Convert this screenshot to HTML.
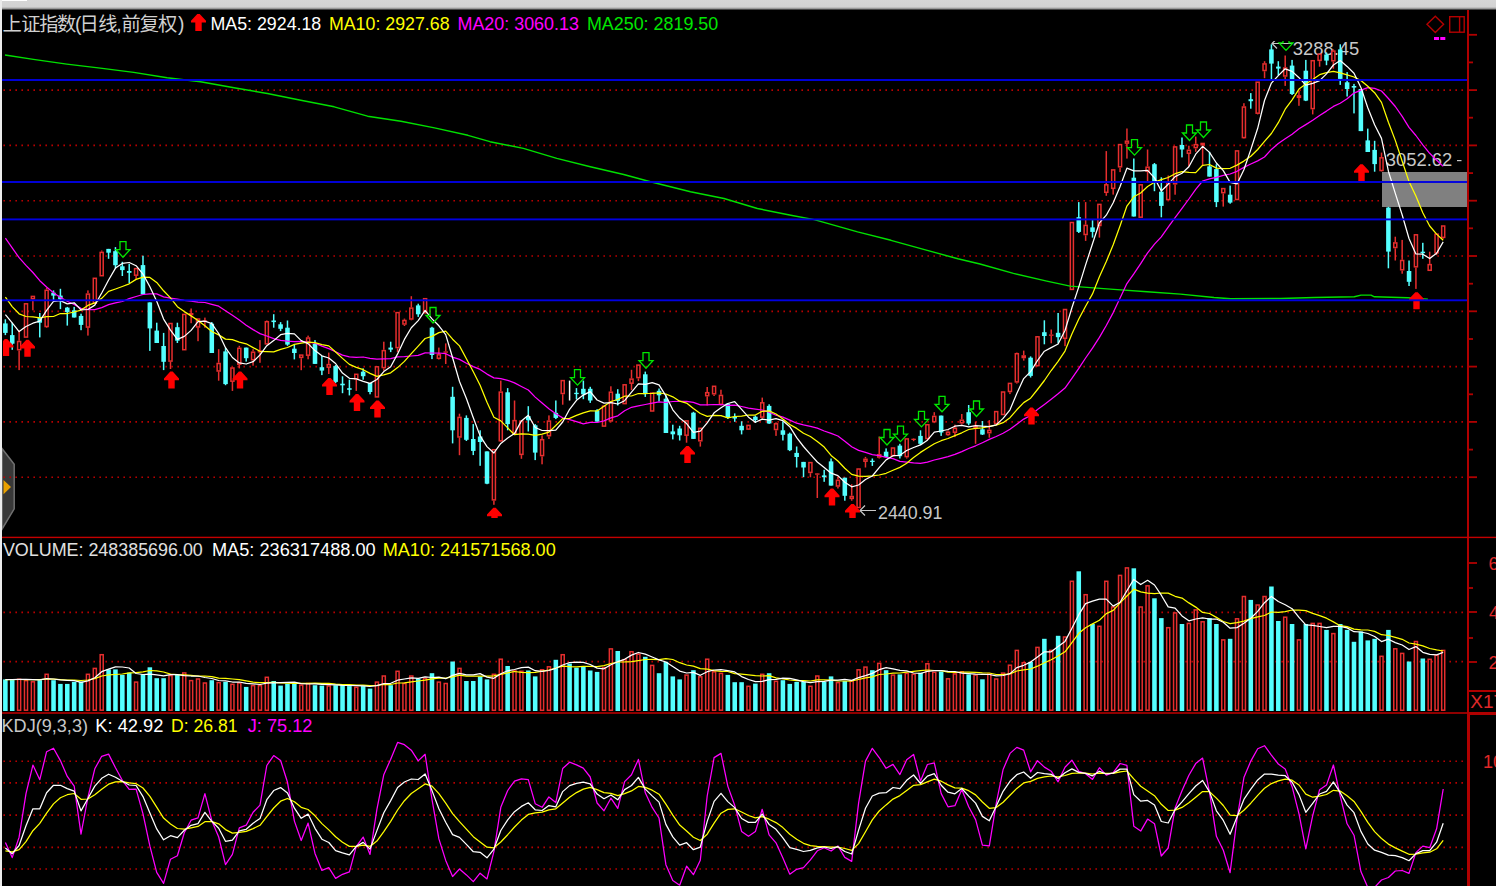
<!DOCTYPE html>
<html><head><meta charset="utf-8"><title>chart</title>
<style>
html,body{margin:0;padding:0;background:#000;}
body{width:1496px;height:886px;overflow:hidden;position:relative;font-family:"Liberation Sans",sans-serif;}
.t{position:absolute;white-space:pre;line-height:1;}
</style></head><body>
<svg width="1496" height="886" viewBox="0 0 1496 886" style="position:absolute;left:0;top:0">
<rect x="0" y="0" width="1496" height="886" fill="#000"/>
<path d="M2 448.5 L14.2 464.3 L14.2 508.8 L2 529.2 Z" fill="#383838" stroke="#707070" stroke-width="1.5"/>
<path d="M3.5 480 L3.5 494.2 L11 487 Z" fill="#e8a000"/>
<g stroke="#b80000" stroke-width="1.65" stroke-dasharray="1.6 4.4" shape-rendering="auto">
<line x1="3.4" y1="90.1" x2="1466" y2="90.1"/>
<line x1="3.4" y1="145.4" x2="1466" y2="145.4"/>
<line x1="3.4" y1="200.7" x2="1466" y2="200.7"/>
<line x1="3.4" y1="256.0" x2="1466" y2="256.0"/>
<line x1="3.4" y1="311.3" x2="1466" y2="311.3"/>
<line x1="3.4" y1="366.6" x2="1466" y2="366.6"/>
<line x1="3.4" y1="421.9" x2="1466" y2="421.9"/>
<line x1="3.4" y1="477.2" x2="1466" y2="477.2"/>
<line x1="3.4" y1="612.4" x2="1466" y2="612.4"/>
<line x1="3.4" y1="661.6" x2="1466" y2="661.6"/>
<line x1="3.4" y1="761.2" x2="1466" y2="761.2"/>
<line x1="3.4" y1="782.8" x2="1466" y2="782.8"/>
<line x1="3.4" y1="815.1" x2="1466" y2="815.1"/>
<line x1="3.4" y1="847.4" x2="1466" y2="847.4"/>
<line x1="3.4" y1="869.0" x2="1466" y2="869.0"/>
</g>
<rect x="1382" y="172" width="86" height="35" fill="#808080" shape-rendering="crispEdges"/>
<text x="1292.8" y="54.9" font-family="'Liberation Sans',sans-serif" font-size="18.4" fill="#c8c8c8">3288.45</text>
<text x="878.1" y="518.8" font-family="'Liberation Sans',sans-serif" font-size="17.8" fill="#c8c8c8">2440.91</text>
<text x="1385.8" y="166.1" font-family="'Liberation Sans',sans-serif" font-size="18.4" fill="#c8c8c8">3052.62</text>
<g stroke="#c8c8c8" stroke-width="1.2" fill="none">
<path d="M860 510.5 L876 510.5 M865 505.5 L860 510.5 L865 515.5"/>
<g clip-path="url(#mc)"><path d="M1272 43.5 L1293 43.5 M1277 38.5 L1272 43.5 L1277 48.5"/></g>
<path d="M1457 160.6 L1461.5 160.6"/>
</g>
<g>
<rect x="4.61" y="319.3" width="1.5" height="15.8" fill="#54ffff"/>
<rect x="3.09" y="323.4" width="4.55" height="9.5" fill="#54ffff"/>
<rect x="11.49" y="322.7" width="1.5" height="27.1" fill="#54ffff"/>
<rect x="9.97" y="335.1" width="4.55" height="8.6" fill="#54ffff"/>
<rect x="18.37" y="330.6" width="1.5" height="10.2" fill="#e62e2e"/>
<rect x="18.37" y="350.5" width="1.5" height="19.6" fill="#e62e2e"/>
<rect x="17.60" y="341.5" width="3.05" height="8.2" fill="#000" stroke="#e62e2e" stroke-width="1.5"/>
<rect x="24.48" y="303.8" width="3.05" height="33.3" fill="#000" stroke="#e62e2e" stroke-width="1.5"/>
<rect x="32.13" y="299.5" width="1.5" height="10.8" fill="#e62e2e"/>
<rect x="31.36" y="296.4" width="3.05" height="2.3" fill="#000" stroke="#e62e2e" stroke-width="1.5"/>
<rect x="39.02" y="313.0" width="1.5" height="24.4" fill="#54ffff"/>
<rect x="37.49" y="317.1" width="4.55" height="5.6" fill="#54ffff"/>
<rect x="45.90" y="287.7" width="1.5" height="1.8" fill="#e62e2e"/>
<rect x="45.90" y="327.2" width="1.5" height="0.7" fill="#e62e2e"/>
<rect x="45.12" y="290.3" width="3.05" height="36.2" fill="#000" stroke="#e62e2e" stroke-width="1.5"/>
<rect x="52.78" y="290.4" width="1.5" height="10.8" fill="#54ffff"/>
<rect x="51.25" y="292.7" width="4.55" height="2.9" fill="#54ffff"/>
<rect x="59.66" y="288.8" width="1.5" height="20.3" fill="#54ffff"/>
<rect x="58.13" y="295.6" width="4.55" height="3.8" fill="#54ffff"/>
<rect x="66.54" y="306.9" width="1.5" height="18.7" fill="#54ffff"/>
<rect x="65.01" y="307.6" width="4.55" height="4.5" fill="#54ffff"/>
<rect x="73.42" y="306.9" width="1.5" height="10.6" fill="#54ffff"/>
<rect x="71.89" y="310.3" width="4.55" height="7.2" fill="#54ffff"/>
<rect x="80.30" y="313.7" width="1.5" height="16.5" fill="#54ffff"/>
<rect x="78.77" y="315.9" width="4.55" height="9.0" fill="#54ffff"/>
<rect x="87.18" y="290.4" width="1.5" height="2.9" fill="#e62e2e"/>
<rect x="87.18" y="327.9" width="1.5" height="7.7" fill="#e62e2e"/>
<rect x="86.41" y="294.1" width="3.05" height="33.0" fill="#000" stroke="#e62e2e" stroke-width="1.5"/>
<rect x="93.29" y="278.3" width="3.05" height="24.9" fill="#000" stroke="#e62e2e" stroke-width="1.5"/>
<rect x="100.94" y="250.5" width="1.5" height="1.1" fill="#e62e2e"/>
<rect x="100.17" y="252.4" width="3.05" height="23.3" fill="#000" stroke="#e62e2e" stroke-width="1.5"/>
<rect x="107.82" y="248.9" width="1.5" height="9.9" fill="#54ffff"/>
<rect x="106.30" y="248.9" width="4.55" height="3.8" fill="#54ffff"/>
<rect x="114.70" y="247.1" width="1.5" height="21.4" fill="#54ffff"/>
<rect x="113.18" y="251.2" width="4.55" height="14.0" fill="#54ffff"/>
<rect x="121.58" y="261.8" width="1.5" height="14.2" fill="#54ffff"/>
<rect x="120.06" y="266.3" width="4.55" height="3.8" fill="#54ffff"/>
<rect x="128.47" y="264.0" width="1.5" height="19.2" fill="#54ffff"/>
<rect x="126.94" y="271.0" width="4.55" height="1.8" fill="#54ffff"/>
<rect x="135.35" y="276.0" width="1.5" height="3.2" fill="#e62e2e"/>
<rect x="134.57" y="268.6" width="3.05" height="6.6" fill="#000" stroke="#e62e2e" stroke-width="1.5"/>
<rect x="142.23" y="255.7" width="1.5" height="38.8" fill="#54ffff"/>
<rect x="140.70" y="265.1" width="4.55" height="29.3" fill="#54ffff"/>
<rect x="149.11" y="302.4" width="1.5" height="48.5" fill="#54ffff"/>
<rect x="147.58" y="302.4" width="4.55" height="26.0" fill="#54ffff"/>
<rect x="155.99" y="322.7" width="1.5" height="20.3" fill="#54ffff"/>
<rect x="154.46" y="330.6" width="4.55" height="12.4" fill="#54ffff"/>
<rect x="162.87" y="332.9" width="1.5" height="37.2" fill="#54ffff"/>
<rect x="161.34" y="346.0" width="4.55" height="15.8" fill="#54ffff"/>
<rect x="169.75" y="361.8" width="1.5" height="7.2" fill="#e62e2e"/>
<rect x="168.98" y="323.5" width="3.05" height="37.6" fill="#000" stroke="#e62e2e" stroke-width="1.5"/>
<rect x="176.63" y="322.7" width="1.5" height="20.3" fill="#54ffff"/>
<rect x="175.11" y="327.2" width="4.55" height="13.5" fill="#54ffff"/>
<rect x="182.74" y="314.4" width="3.05" height="35.3" fill="#000" stroke="#e62e2e" stroke-width="1.5"/>
<rect x="190.39" y="308.5" width="1.5" height="4.5" fill="#e62e2e"/>
<rect x="190.39" y="315.3" width="1.5" height="7.9" fill="#e62e2e"/>
<rect x="188.87" y="313.0" width="4.55" height="2.3" fill="#e62e2e"/>
<rect x="197.27" y="327.7" width="1.5" height="13.5" fill="#e62e2e"/>
<rect x="196.50" y="319.0" width="3.05" height="8.0" fill="#000" stroke="#e62e2e" stroke-width="1.5"/>
<rect x="204.15" y="317.6" width="1.5" height="2.7" fill="#e62e2e"/>
<rect x="204.15" y="321.6" width="1.5" height="6.1" fill="#e62e2e"/>
<rect x="202.63" y="320.3" width="4.55" height="1.3" fill="#e62e2e"/>
<rect x="211.04" y="322.1" width="1.5" height="30.9" fill="#54ffff"/>
<rect x="209.51" y="323.7" width="4.55" height="29.3" fill="#54ffff"/>
<rect x="217.92" y="349.2" width="1.5" height="13.5" fill="#e62e2e"/>
<rect x="217.92" y="371.7" width="1.5" height="9.0" fill="#e62e2e"/>
<rect x="217.14" y="363.5" width="3.05" height="7.5" fill="#000" stroke="#e62e2e" stroke-width="1.5"/>
<rect x="224.80" y="348.0" width="1.5" height="37.2" fill="#54ffff"/>
<rect x="223.27" y="351.4" width="4.55" height="32.7" fill="#54ffff"/>
<rect x="231.68" y="381.9" width="1.5" height="9.0" fill="#e62e2e"/>
<rect x="230.90" y="368.0" width="3.05" height="13.2" fill="#000" stroke="#e62e2e" stroke-width="1.5"/>
<rect x="238.56" y="345.8" width="1.5" height="1.8" fill="#e62e2e"/>
<rect x="238.56" y="365.0" width="1.5" height="3.4" fill="#e62e2e"/>
<rect x="237.78" y="348.3" width="3.05" height="15.9" fill="#000" stroke="#e62e2e" stroke-width="1.5"/>
<rect x="245.44" y="347.6" width="1.5" height="14.0" fill="#54ffff"/>
<rect x="243.91" y="347.6" width="4.55" height="10.6" fill="#54ffff"/>
<rect x="252.32" y="349.2" width="1.5" height="2.3" fill="#e62e2e"/>
<rect x="252.32" y="360.5" width="1.5" height="5.2" fill="#e62e2e"/>
<rect x="251.55" y="352.2" width="3.05" height="7.5" fill="#000" stroke="#e62e2e" stroke-width="1.5"/>
<rect x="259.20" y="340.1" width="1.5" height="10.2" fill="#e62e2e"/>
<rect x="259.20" y="352.6" width="1.5" height="10.2" fill="#e62e2e"/>
<rect x="257.68" y="350.3" width="4.55" height="2.3" fill="#e62e2e"/>
<rect x="266.08" y="320.5" width="1.5" height="0.5" fill="#e62e2e"/>
<rect x="265.31" y="321.7" width="3.05" height="22.2" fill="#000" stroke="#e62e2e" stroke-width="1.5"/>
<rect x="272.96" y="314.2" width="1.5" height="13.5" fill="#54ffff"/>
<rect x="271.44" y="320.5" width="4.55" height="1.6" fill="#54ffff"/>
<rect x="279.84" y="322.1" width="1.5" height="9.0" fill="#54ffff"/>
<rect x="278.32" y="324.3" width="4.55" height="4.5" fill="#54ffff"/>
<rect x="286.72" y="320.5" width="1.5" height="25.3" fill="#54ffff"/>
<rect x="285.20" y="327.7" width="4.55" height="16.9" fill="#54ffff"/>
<rect x="293.60" y="344.7" width="1.5" height="14.7" fill="#54ffff"/>
<rect x="292.08" y="348.7" width="4.55" height="4.3" fill="#54ffff"/>
<rect x="300.49" y="358.2" width="1.5" height="12.0" fill="#e62e2e"/>
<rect x="299.71" y="355.1" width="3.05" height="2.3" fill="#000" stroke="#e62e2e" stroke-width="1.5"/>
<rect x="307.37" y="335.6" width="1.5" height="1.6" fill="#e62e2e"/>
<rect x="307.37" y="355.9" width="1.5" height="3.4" fill="#e62e2e"/>
<rect x="306.59" y="338.0" width="3.05" height="17.2" fill="#000" stroke="#e62e2e" stroke-width="1.5"/>
<rect x="314.25" y="340.1" width="1.5" height="23.7" fill="#54ffff"/>
<rect x="312.72" y="344.0" width="4.55" height="19.9" fill="#54ffff"/>
<rect x="321.13" y="355.9" width="1.5" height="19.2" fill="#54ffff"/>
<rect x="319.60" y="367.2" width="4.55" height="3.4" fill="#54ffff"/>
<rect x="328.01" y="352.6" width="1.5" height="11.3" fill="#e62e2e"/>
<rect x="328.01" y="367.9" width="1.5" height="6.1" fill="#e62e2e"/>
<rect x="327.23" y="364.6" width="3.05" height="2.6" fill="#000" stroke="#e62e2e" stroke-width="1.5"/>
<rect x="334.89" y="365.0" width="1.5" height="18.1" fill="#54ffff"/>
<rect x="333.36" y="366.1" width="4.55" height="15.8" fill="#54ffff"/>
<rect x="341.77" y="376.3" width="1.5" height="16.9" fill="#54ffff"/>
<rect x="340.25" y="383.7" width="4.55" height="1.6" fill="#54ffff"/>
<rect x="348.65" y="379.6" width="1.5" height="15.8" fill="#54ffff"/>
<rect x="347.13" y="388.2" width="4.55" height="1.6" fill="#54ffff"/>
<rect x="355.53" y="379.6" width="1.5" height="11.3" fill="#e62e2e"/>
<rect x="354.76" y="374.3" width="3.05" height="4.6" fill="#000" stroke="#e62e2e" stroke-width="1.5"/>
<rect x="362.41" y="368.4" width="1.5" height="11.3" fill="#54ffff"/>
<rect x="360.89" y="371.7" width="4.55" height="4.5" fill="#54ffff"/>
<rect x="369.29" y="383.0" width="1.5" height="11.3" fill="#54ffff"/>
<rect x="367.77" y="383.0" width="4.55" height="9.0" fill="#54ffff"/>
<rect x="375.40" y="366.8" width="3.05" height="30.1" fill="#000" stroke="#e62e2e" stroke-width="1.5"/>
<rect x="383.06" y="341.7" width="1.5" height="8.1" fill="#e62e2e"/>
<rect x="383.06" y="368.4" width="1.5" height="2.3" fill="#e62e2e"/>
<rect x="382.28" y="350.6" width="3.05" height="17.0" fill="#000" stroke="#e62e2e" stroke-width="1.5"/>
<rect x="389.94" y="341.7" width="1.5" height="10.4" fill="#54ffff"/>
<rect x="388.41" y="347.6" width="4.55" height="2.0" fill="#54ffff"/>
<rect x="396.82" y="348.4" width="1.5" height="3.7" fill="#e62e2e"/>
<rect x="396.04" y="312.6" width="3.05" height="35.0" fill="#000" stroke="#e62e2e" stroke-width="1.5"/>
<rect x="403.70" y="318.6" width="1.5" height="1.2" fill="#e62e2e"/>
<rect x="403.70" y="324.8" width="1.5" height="1.2" fill="#e62e2e"/>
<rect x="402.92" y="320.5" width="3.05" height="3.5" fill="#000" stroke="#e62e2e" stroke-width="1.5"/>
<rect x="410.58" y="296.2" width="1.5" height="11.2" fill="#e62e2e"/>
<rect x="410.58" y="319.8" width="1.5" height="0.5" fill="#e62e2e"/>
<rect x="409.80" y="308.1" width="3.05" height="10.9" fill="#000" stroke="#e62e2e" stroke-width="1.5"/>
<rect x="417.46" y="303.7" width="1.5" height="13.2" fill="#54ffff"/>
<rect x="415.93" y="305.4" width="4.55" height="8.9" fill="#54ffff"/>
<rect x="423.57" y="298.7" width="3.05" height="14.1" fill="#000" stroke="#e62e2e" stroke-width="1.5"/>
<rect x="431.22" y="326.8" width="1.5" height="32.3" fill="#54ffff"/>
<rect x="429.70" y="327.7" width="4.55" height="27.3" fill="#54ffff"/>
<rect x="438.10" y="347.6" width="1.5" height="6.5" fill="#e62e2e"/>
<rect x="438.10" y="359.0" width="1.5" height="0.5" fill="#e62e2e"/>
<rect x="437.33" y="354.8" width="3.05" height="3.5" fill="#000" stroke="#e62e2e" stroke-width="1.5"/>
<rect x="444.98" y="343.4" width="1.5" height="8.0" fill="#e62e2e"/>
<rect x="444.98" y="352.7" width="1.5" height="11.3" fill="#e62e2e"/>
<rect x="443.46" y="351.4" width="4.55" height="1.3" fill="#e62e2e"/>
<rect x="451.86" y="386.8" width="1.5" height="56.6" fill="#54ffff"/>
<rect x="450.34" y="396.8" width="4.55" height="33.5" fill="#54ffff"/>
<rect x="458.74" y="413.7" width="1.5" height="3.0" fill="#e62e2e"/>
<rect x="458.74" y="437.8" width="1.5" height="17.4" fill="#e62e2e"/>
<rect x="457.97" y="417.4" width="3.05" height="19.6" fill="#000" stroke="#e62e2e" stroke-width="1.5"/>
<rect x="465.63" y="415.4" width="1.5" height="25.6" fill="#54ffff"/>
<rect x="464.10" y="417.9" width="4.55" height="21.9" fill="#54ffff"/>
<rect x="472.51" y="424.1" width="1.5" height="31.0" fill="#54ffff"/>
<rect x="470.98" y="439.0" width="4.55" height="11.9" fill="#54ffff"/>
<rect x="479.39" y="430.3" width="1.5" height="35.5" fill="#54ffff"/>
<rect x="477.86" y="436.5" width="4.55" height="5.5" fill="#54ffff"/>
<rect x="486.27" y="451.4" width="1.5" height="32.8" fill="#54ffff"/>
<rect x="484.74" y="451.4" width="4.55" height="32.3" fill="#54ffff"/>
<rect x="493.15" y="500.6" width="1.5" height="4.2" fill="#e62e2e"/>
<rect x="492.37" y="449.7" width="3.05" height="50.2" fill="#000" stroke="#e62e2e" stroke-width="1.5"/>
<rect x="500.03" y="380.6" width="1.5" height="10.7" fill="#e62e2e"/>
<rect x="500.03" y="441.5" width="1.5" height="0.5" fill="#e62e2e"/>
<rect x="499.25" y="392.1" width="3.05" height="48.7" fill="#000" stroke="#e62e2e" stroke-width="1.5"/>
<rect x="506.91" y="388.1" width="1.5" height="42.2" fill="#54ffff"/>
<rect x="505.38" y="392.3" width="4.55" height="31.8" fill="#54ffff"/>
<rect x="513.79" y="400.5" width="1.5" height="19.4" fill="#e62e2e"/>
<rect x="513.79" y="434.0" width="1.5" height="0.5" fill="#e62e2e"/>
<rect x="513.02" y="420.6" width="3.05" height="12.7" fill="#000" stroke="#e62e2e" stroke-width="1.5"/>
<rect x="520.67" y="455.1" width="1.5" height="3.7" fill="#e62e2e"/>
<rect x="519.90" y="421.1" width="3.05" height="33.3" fill="#000" stroke="#e62e2e" stroke-width="1.5"/>
<rect x="527.55" y="406.2" width="1.5" height="25.3" fill="#54ffff"/>
<rect x="526.03" y="416.1" width="4.55" height="4.2" fill="#54ffff"/>
<rect x="534.43" y="424.1" width="1.5" height="36.0" fill="#54ffff"/>
<rect x="532.91" y="425.3" width="4.55" height="27.3" fill="#54ffff"/>
<rect x="541.31" y="435.3" width="1.5" height="3.7" fill="#e62e2e"/>
<rect x="541.31" y="456.4" width="1.5" height="7.9" fill="#e62e2e"/>
<rect x="540.54" y="439.7" width="3.05" height="15.9" fill="#000" stroke="#e62e2e" stroke-width="1.5"/>
<rect x="548.19" y="415.4" width="1.5" height="5.0" fill="#e62e2e"/>
<rect x="548.19" y="436.5" width="1.5" height="2.5" fill="#e62e2e"/>
<rect x="547.42" y="421.1" width="3.05" height="14.6" fill="#000" stroke="#e62e2e" stroke-width="1.5"/>
<rect x="555.08" y="400.5" width="1.5" height="18.6" fill="#54ffff"/>
<rect x="553.55" y="412.9" width="4.55" height="5.0" fill="#54ffff"/>
<rect x="561.96" y="394.3" width="1.5" height="10.4" fill="#e62e2e"/>
<rect x="561.18" y="380.6" width="3.05" height="12.9" fill="#000" stroke="#e62e2e" stroke-width="1.5"/>
<rect x="568.84" y="380.6" width="1.5" height="19.9" fill="#ffffff"/>
<rect x="575.72" y="388.1" width="1.5" height="11.2" fill="#54ffff"/>
<rect x="574.19" y="392.8" width="4.55" height="1.3" fill="#54ffff"/>
<rect x="582.60" y="380.6" width="1.5" height="18.6" fill="#54ffff"/>
<rect x="581.07" y="388.8" width="4.55" height="5.5" fill="#54ffff"/>
<rect x="589.48" y="386.8" width="1.5" height="16.1" fill="#54ffff"/>
<rect x="587.95" y="388.8" width="4.55" height="11.7" fill="#54ffff"/>
<rect x="596.36" y="409.2" width="1.5" height="12.4" fill="#54ffff"/>
<rect x="594.84" y="410.4" width="4.55" height="11.2" fill="#54ffff"/>
<rect x="602.47" y="406.2" width="3.05" height="19.9" fill="#000" stroke="#e62e2e" stroke-width="1.5"/>
<rect x="610.12" y="386.3" width="1.5" height="5.2" fill="#e62e2e"/>
<rect x="610.12" y="421.7" width="1.5" height="0.7" fill="#e62e2e"/>
<rect x="609.35" y="392.2" width="3.05" height="28.7" fill="#000" stroke="#e62e2e" stroke-width="1.5"/>
<rect x="617.00" y="389.2" width="1.5" height="16.3" fill="#54ffff"/>
<rect x="615.48" y="393.7" width="4.55" height="7.2" fill="#54ffff"/>
<rect x="623.11" y="384.8" width="3.05" height="18.8" fill="#000" stroke="#e62e2e" stroke-width="1.5"/>
<rect x="630.76" y="369.8" width="1.5" height="8.6" fill="#e62e2e"/>
<rect x="630.76" y="384.0" width="1.5" height="6.1" fill="#e62e2e"/>
<rect x="629.99" y="379.1" width="3.05" height="4.1" fill="#000" stroke="#e62e2e" stroke-width="1.5"/>
<rect x="637.65" y="378.4" width="1.5" height="2.7" fill="#e62e2e"/>
<rect x="636.87" y="365.1" width="3.05" height="12.5" fill="#000" stroke="#e62e2e" stroke-width="1.5"/>
<rect x="644.53" y="371.6" width="1.5" height="25.3" fill="#54ffff"/>
<rect x="643.00" y="374.3" width="4.55" height="19.9" fill="#54ffff"/>
<rect x="650.63" y="393.1" width="3.05" height="17.9" fill="#000" stroke="#e62e2e" stroke-width="1.5"/>
<rect x="658.29" y="388.5" width="1.5" height="12.9" fill="#54ffff"/>
<rect x="656.76" y="390.8" width="4.55" height="4.5" fill="#54ffff"/>
<rect x="665.17" y="395.3" width="1.5" height="37.7" fill="#54ffff"/>
<rect x="663.64" y="398.7" width="4.55" height="34.3" fill="#54ffff"/>
<rect x="672.05" y="424.7" width="1.5" height="14.7" fill="#54ffff"/>
<rect x="670.52" y="431.4" width="4.55" height="2.9" fill="#54ffff"/>
<rect x="678.93" y="425.8" width="1.5" height="14.7" fill="#54ffff"/>
<rect x="677.41" y="428.5" width="4.55" height="6.8" fill="#54ffff"/>
<rect x="685.81" y="435.9" width="1.5" height="6.8" fill="#e62e2e"/>
<rect x="685.04" y="420.9" width="3.05" height="14.3" fill="#000" stroke="#e62e2e" stroke-width="1.5"/>
<rect x="692.69" y="411.8" width="1.5" height="27.1" fill="#54ffff"/>
<rect x="691.17" y="412.7" width="4.55" height="26.2" fill="#54ffff"/>
<rect x="699.57" y="441.6" width="1.5" height="5.0" fill="#e62e2e"/>
<rect x="698.80" y="428.3" width="3.05" height="12.5" fill="#000" stroke="#e62e2e" stroke-width="1.5"/>
<rect x="706.45" y="387.0" width="1.5" height="5.0" fill="#e62e2e"/>
<rect x="706.45" y="396.4" width="1.5" height="9.0" fill="#e62e2e"/>
<rect x="705.68" y="392.7" width="3.05" height="3.0" fill="#000" stroke="#e62e2e" stroke-width="1.5"/>
<rect x="713.33" y="394.6" width="1.5" height="1.4" fill="#e62e2e"/>
<rect x="712.56" y="386.3" width="3.05" height="7.5" fill="#000" stroke="#e62e2e" stroke-width="1.5"/>
<rect x="720.21" y="389.7" width="1.5" height="5.0" fill="#e62e2e"/>
<rect x="720.21" y="405.0" width="1.5" height="0.5" fill="#e62e2e"/>
<rect x="719.44" y="395.4" width="3.05" height="8.9" fill="#000" stroke="#e62e2e" stroke-width="1.5"/>
<rect x="727.10" y="403.7" width="1.5" height="15.3" fill="#54ffff"/>
<rect x="725.57" y="403.7" width="4.55" height="14.2" fill="#54ffff"/>
<rect x="733.98" y="413.4" width="1.5" height="8.4" fill="#54ffff"/>
<rect x="732.45" y="416.7" width="4.55" height="1.8" fill="#54ffff"/>
<rect x="740.86" y="421.3" width="1.5" height="13.1" fill="#54ffff"/>
<rect x="739.33" y="425.8" width="4.55" height="4.5" fill="#54ffff"/>
<rect x="746.96" y="425.4" width="3.05" height="3.7" fill="#000" stroke="#e62e2e" stroke-width="1.5"/>
<rect x="754.62" y="415.6" width="1.5" height="7.4" fill="#54ffff"/>
<rect x="753.09" y="416.7" width="4.55" height="3.4" fill="#54ffff"/>
<rect x="761.50" y="397.6" width="1.5" height="4.5" fill="#e62e2e"/>
<rect x="761.50" y="417.9" width="1.5" height="0.7" fill="#e62e2e"/>
<rect x="760.72" y="402.8" width="3.05" height="14.3" fill="#000" stroke="#e62e2e" stroke-width="1.5"/>
<rect x="768.38" y="404.3" width="1.5" height="19.6" fill="#54ffff"/>
<rect x="766.86" y="405.9" width="4.55" height="17.6" fill="#54ffff"/>
<rect x="775.26" y="422.4" width="1.5" height="0.7" fill="#e62e2e"/>
<rect x="775.26" y="430.3" width="1.5" height="5.6" fill="#e62e2e"/>
<rect x="774.49" y="423.8" width="3.05" height="5.7" fill="#000" stroke="#e62e2e" stroke-width="1.5"/>
<rect x="782.14" y="421.3" width="1.5" height="19.2" fill="#54ffff"/>
<rect x="780.62" y="430.3" width="4.55" height="4.5" fill="#54ffff"/>
<rect x="789.02" y="432.6" width="1.5" height="18.5" fill="#54ffff"/>
<rect x="787.50" y="433.7" width="4.55" height="16.5" fill="#54ffff"/>
<rect x="795.90" y="446.5" width="1.5" height="21.0" fill="#54ffff"/>
<rect x="794.38" y="452.9" width="4.55" height="4.1" fill="#54ffff"/>
<rect x="802.78" y="461.9" width="1.5" height="15.3" fill="#54ffff"/>
<rect x="801.26" y="461.9" width="4.55" height="5.6" fill="#54ffff"/>
<rect x="809.67" y="473.2" width="1.5" height="4.1" fill="#e62e2e"/>
<rect x="808.89" y="462.6" width="3.05" height="9.8" fill="#000" stroke="#e62e2e" stroke-width="1.5"/>
<rect x="816.55" y="473.2" width="1.5" height="0.3" fill="#e62e2e"/>
<rect x="816.55" y="474.7" width="1.5" height="23.3" fill="#e62e2e"/>
<rect x="815.02" y="473.4" width="4.55" height="1.3" fill="#e62e2e"/>
<rect x="823.43" y="469.8" width="1.5" height="12.0" fill="#54ffff"/>
<rect x="821.90" y="475.4" width="4.55" height="1.8" fill="#54ffff"/>
<rect x="830.31" y="458.5" width="1.5" height="27.1" fill="#54ffff"/>
<rect x="828.78" y="461.4" width="4.55" height="24.2" fill="#54ffff"/>
<rect x="837.19" y="476.6" width="1.5" height="2.9" fill="#e62e2e"/>
<rect x="837.19" y="486.7" width="1.5" height="1.8" fill="#e62e2e"/>
<rect x="836.41" y="480.3" width="3.05" height="5.7" fill="#000" stroke="#e62e2e" stroke-width="1.5"/>
<rect x="844.07" y="477.7" width="1.5" height="23.0" fill="#54ffff"/>
<rect x="842.54" y="477.7" width="4.55" height="18.1" fill="#54ffff"/>
<rect x="850.95" y="484.2" width="1.5" height="11.5" fill="#e62e2e"/>
<rect x="850.95" y="499.1" width="1.5" height="1.6" fill="#e62e2e"/>
<rect x="850.18" y="496.5" width="3.05" height="1.9" fill="#000" stroke="#e62e2e" stroke-width="1.5"/>
<rect x="857.06" y="469.0" width="3.05" height="38.5" fill="#000" stroke="#e62e2e" stroke-width="1.5"/>
<rect x="864.71" y="456.9" width="1.5" height="1.6" fill="#e62e2e"/>
<rect x="864.71" y="461.9" width="1.5" height="5.6" fill="#e62e2e"/>
<rect x="863.94" y="459.3" width="3.05" height="1.9" fill="#000" stroke="#e62e2e" stroke-width="1.5"/>
<rect x="871.59" y="458.5" width="1.5" height="7.4" fill="#54ffff"/>
<rect x="870.07" y="460.7" width="4.55" height="1.3" fill="#54ffff"/>
<rect x="878.47" y="436.6" width="1.5" height="17.4" fill="#e62e2e"/>
<rect x="878.47" y="457.8" width="1.5" height="0.7" fill="#e62e2e"/>
<rect x="877.70" y="454.7" width="3.05" height="2.3" fill="#000" stroke="#e62e2e" stroke-width="1.5"/>
<rect x="885.35" y="448.4" width="1.5" height="9.0" fill="#54ffff"/>
<rect x="883.83" y="451.7" width="4.55" height="5.2" fill="#54ffff"/>
<rect x="892.24" y="456.3" width="1.5" height="0.7" fill="#e62e2e"/>
<rect x="891.46" y="448.0" width="3.05" height="7.5" fill="#000" stroke="#e62e2e" stroke-width="1.5"/>
<rect x="899.12" y="443.8" width="1.5" height="14.7" fill="#54ffff"/>
<rect x="897.59" y="445.6" width="4.55" height="10.6" fill="#54ffff"/>
<rect x="906.00" y="457.4" width="1.5" height="1.1" fill="#e62e2e"/>
<rect x="905.22" y="438.9" width="3.05" height="17.7" fill="#000" stroke="#e62e2e" stroke-width="1.5"/>
<rect x="912.88" y="438.2" width="1.5" height="0.5" fill="#e62e2e"/>
<rect x="912.88" y="440.0" width="1.5" height="1.2" fill="#e62e2e"/>
<rect x="911.35" y="438.7" width="4.55" height="1.3" fill="#e62e2e"/>
<rect x="919.76" y="430.3" width="1.5" height="14.7" fill="#54ffff"/>
<rect x="918.23" y="435.9" width="4.55" height="7.9" fill="#54ffff"/>
<rect x="926.64" y="439.3" width="1.5" height="1.1" fill="#e62e2e"/>
<rect x="925.86" y="424.7" width="3.05" height="13.8" fill="#000" stroke="#e62e2e" stroke-width="1.5"/>
<rect x="933.52" y="412.2" width="1.5" height="3.4" fill="#e62e2e"/>
<rect x="933.52" y="422.4" width="1.5" height="0.7" fill="#e62e2e"/>
<rect x="932.74" y="416.4" width="3.05" height="5.3" fill="#000" stroke="#e62e2e" stroke-width="1.5"/>
<rect x="940.40" y="415.6" width="1.5" height="20.3" fill="#54ffff"/>
<rect x="938.88" y="415.6" width="4.55" height="16.9" fill="#54ffff"/>
<rect x="947.28" y="430.3" width="1.5" height="1.1" fill="#e62e2e"/>
<rect x="947.28" y="435.3" width="1.5" height="0.7" fill="#e62e2e"/>
<rect x="946.51" y="432.2" width="3.05" height="2.3" fill="#000" stroke="#e62e2e" stroke-width="1.5"/>
<rect x="954.16" y="424.7" width="1.5" height="2.9" fill="#e62e2e"/>
<rect x="954.16" y="433.0" width="1.5" height="4.1" fill="#e62e2e"/>
<rect x="953.39" y="428.3" width="3.05" height="3.9" fill="#000" stroke="#e62e2e" stroke-width="1.5"/>
<rect x="961.04" y="414.0" width="1.5" height="5.4" fill="#e62e2e"/>
<rect x="961.04" y="423.5" width="1.5" height="1.1" fill="#e62e2e"/>
<rect x="960.27" y="420.2" width="3.05" height="2.6" fill="#000" stroke="#e62e2e" stroke-width="1.5"/>
<rect x="967.92" y="405.0" width="1.5" height="20.3" fill="#54ffff"/>
<rect x="966.40" y="412.2" width="4.55" height="11.3" fill="#54ffff"/>
<rect x="974.80" y="421.7" width="1.5" height="4.1" fill="#e62e2e"/>
<rect x="974.80" y="428.5" width="1.5" height="15.3" fill="#e62e2e"/>
<rect x="973.28" y="425.8" width="4.55" height="2.7" fill="#e62e2e"/>
<rect x="981.69" y="421.0" width="1.5" height="14.0" fill="#54ffff"/>
<rect x="980.16" y="429.3" width="4.55" height="5.2" fill="#54ffff"/>
<rect x="988.57" y="420.1" width="1.5" height="9.6" fill="#e62e2e"/>
<rect x="988.57" y="433.5" width="1.5" height="4.2" fill="#e62e2e"/>
<rect x="987.79" y="430.4" width="3.05" height="2.3" fill="#000" stroke="#e62e2e" stroke-width="1.5"/>
<rect x="994.67" y="411.6" width="3.05" height="11.9" fill="#000" stroke="#e62e2e" stroke-width="1.5"/>
<rect x="1001.55" y="392.0" width="3.05" height="22.5" fill="#000" stroke="#e62e2e" stroke-width="1.5"/>
<rect x="1009.21" y="392.2" width="1.5" height="1.9" fill="#e62e2e"/>
<rect x="1008.43" y="383.4" width="3.05" height="8.1" fill="#000" stroke="#e62e2e" stroke-width="1.5"/>
<rect x="1016.09" y="352.5" width="1.5" height="0.4" fill="#e62e2e"/>
<rect x="1016.09" y="382.6" width="1.5" height="1.0" fill="#e62e2e"/>
<rect x="1015.31" y="353.7" width="3.05" height="28.2" fill="#000" stroke="#e62e2e" stroke-width="1.5"/>
<rect x="1022.97" y="350.6" width="1.5" height="4.6" fill="#e62e2e"/>
<rect x="1022.97" y="358.3" width="1.5" height="2.3" fill="#e62e2e"/>
<rect x="1021.45" y="355.2" width="4.55" height="3.1" fill="#e62e2e"/>
<rect x="1029.85" y="356.4" width="1.5" height="21.1" fill="#54ffff"/>
<rect x="1028.33" y="357.7" width="4.55" height="18.2" fill="#54ffff"/>
<rect x="1036.73" y="366.3" width="1.5" height="0.4" fill="#e62e2e"/>
<rect x="1035.96" y="336.8" width="3.05" height="28.8" fill="#000" stroke="#e62e2e" stroke-width="1.5"/>
<rect x="1043.61" y="320.3" width="1.5" height="24.0" fill="#54ffff"/>
<rect x="1042.09" y="332.2" width="4.55" height="3.8" fill="#54ffff"/>
<rect x="1050.49" y="329.5" width="1.5" height="5.0" fill="#e62e2e"/>
<rect x="1050.49" y="335.8" width="1.5" height="7.5" fill="#e62e2e"/>
<rect x="1048.97" y="334.5" width="4.55" height="1.3" fill="#e62e2e"/>
<rect x="1057.37" y="313.0" width="1.5" height="30.3" fill="#54ffff"/>
<rect x="1055.85" y="332.8" width="4.55" height="4.4" fill="#54ffff"/>
<rect x="1064.26" y="339.1" width="1.5" height="7.1" fill="#e62e2e"/>
<rect x="1063.48" y="309.5" width="3.05" height="28.8" fill="#000" stroke="#e62e2e" stroke-width="1.5"/>
<rect x="1070.36" y="222.5" width="3.05" height="66.9" fill="#000" stroke="#e62e2e" stroke-width="1.5"/>
<rect x="1078.02" y="202.1" width="1.5" height="30.9" fill="#54ffff"/>
<rect x="1076.49" y="217.2" width="4.55" height="14.7" fill="#54ffff"/>
<rect x="1084.90" y="202.1" width="1.5" height="22.6" fill="#e62e2e"/>
<rect x="1084.90" y="235.3" width="1.5" height="5.6" fill="#e62e2e"/>
<rect x="1084.12" y="225.4" width="3.05" height="9.1" fill="#000" stroke="#e62e2e" stroke-width="1.5"/>
<rect x="1091.78" y="220.2" width="1.5" height="17.4" fill="#54ffff"/>
<rect x="1090.25" y="227.4" width="4.55" height="4.5" fill="#54ffff"/>
<rect x="1098.66" y="226.3" width="1.5" height="11.3" fill="#e62e2e"/>
<rect x="1097.88" y="204.4" width="3.05" height="21.1" fill="#000" stroke="#e62e2e" stroke-width="1.5"/>
<rect x="1105.54" y="151.1" width="1.5" height="33.0" fill="#e62e2e"/>
<rect x="1105.54" y="193.1" width="1.5" height="2.7" fill="#e62e2e"/>
<rect x="1104.77" y="184.8" width="3.05" height="7.5" fill="#000" stroke="#e62e2e" stroke-width="1.5"/>
<rect x="1112.42" y="189.0" width="1.5" height="5.6" fill="#e62e2e"/>
<rect x="1111.65" y="169.9" width="3.05" height="18.4" fill="#000" stroke="#e62e2e" stroke-width="1.5"/>
<rect x="1119.30" y="167.6" width="1.5" height="4.5" fill="#e62e2e"/>
<rect x="1118.53" y="144.6" width="3.05" height="22.2" fill="#000" stroke="#e62e2e" stroke-width="1.5"/>
<rect x="1126.18" y="128.5" width="1.5" height="12.0" fill="#e62e2e"/>
<rect x="1126.18" y="143.9" width="1.5" height="14.7" fill="#e62e2e"/>
<rect x="1125.41" y="141.2" width="3.05" height="1.9" fill="#000" stroke="#e62e2e" stroke-width="1.5"/>
<rect x="1133.06" y="158.5" width="1.5" height="58.0" fill="#54ffff"/>
<rect x="1131.54" y="177.7" width="4.55" height="38.8" fill="#54ffff"/>
<rect x="1139.17" y="184.8" width="3.05" height="32.4" fill="#000" stroke="#e62e2e" stroke-width="1.5"/>
<rect x="1146.82" y="149.5" width="1.5" height="16.9" fill="#e62e2e"/>
<rect x="1146.82" y="172.1" width="1.5" height="9.0" fill="#e62e2e"/>
<rect x="1146.05" y="167.2" width="3.05" height="4.1" fill="#000" stroke="#e62e2e" stroke-width="1.5"/>
<rect x="1153.71" y="163.0" width="1.5" height="28.2" fill="#54ffff"/>
<rect x="1152.18" y="164.2" width="4.55" height="18.1" fill="#54ffff"/>
<rect x="1160.59" y="177.3" width="1.5" height="40.0" fill="#54ffff"/>
<rect x="1159.06" y="191.7" width="4.55" height="14.2" fill="#54ffff"/>
<rect x="1167.47" y="175.5" width="1.5" height="6.8" fill="#e62e2e"/>
<rect x="1166.69" y="183.0" width="3.05" height="16.6" fill="#000" stroke="#e62e2e" stroke-width="1.5"/>
<rect x="1174.35" y="184.5" width="1.5" height="10.2" fill="#e62e2e"/>
<rect x="1173.57" y="146.9" width="3.05" height="36.9" fill="#000" stroke="#e62e2e" stroke-width="1.5"/>
<rect x="1181.23" y="137.5" width="1.5" height="19.9" fill="#54ffff"/>
<rect x="1179.70" y="145.0" width="4.55" height="4.5" fill="#54ffff"/>
<rect x="1188.11" y="145.7" width="1.5" height="3.8" fill="#e62e2e"/>
<rect x="1188.11" y="154.0" width="1.5" height="12.4" fill="#e62e2e"/>
<rect x="1187.33" y="150.3" width="3.05" height="3.0" fill="#000" stroke="#e62e2e" stroke-width="1.5"/>
<rect x="1194.99" y="136.6" width="1.5" height="7.2" fill="#e62e2e"/>
<rect x="1194.99" y="148.4" width="1.5" height="3.4" fill="#e62e2e"/>
<rect x="1194.22" y="144.6" width="3.05" height="3.0" fill="#000" stroke="#e62e2e" stroke-width="1.5"/>
<rect x="1201.87" y="145.7" width="1.5" height="19.6" fill="#e62e2e"/>
<rect x="1200.35" y="142.7" width="4.55" height="2.9" fill="#e62e2e"/>
<rect x="1208.75" y="151.8" width="1.5" height="24.8" fill="#54ffff"/>
<rect x="1207.23" y="166.4" width="4.55" height="10.2" fill="#54ffff"/>
<rect x="1215.63" y="164.2" width="1.5" height="42.9" fill="#54ffff"/>
<rect x="1214.11" y="169.1" width="4.55" height="33.0" fill="#54ffff"/>
<rect x="1222.51" y="193.5" width="1.5" height="13.1" fill="#e62e2e"/>
<rect x="1221.74" y="188.6" width="3.05" height="4.1" fill="#000" stroke="#e62e2e" stroke-width="1.5"/>
<rect x="1229.39" y="185.6" width="1.5" height="18.1" fill="#54ffff"/>
<rect x="1227.87" y="194.7" width="4.55" height="7.9" fill="#54ffff"/>
<rect x="1235.50" y="150.9" width="3.05" height="48.6" fill="#000" stroke="#e62e2e" stroke-width="1.5"/>
<rect x="1243.16" y="103.2" width="1.5" height="3.0" fill="#e62e2e"/>
<rect x="1243.16" y="138.4" width="1.5" height="0.4" fill="#e62e2e"/>
<rect x="1242.38" y="107.0" width="3.05" height="30.6" fill="#000" stroke="#e62e2e" stroke-width="1.5"/>
<rect x="1250.04" y="93.1" width="1.5" height="15.6" fill="#54ffff"/>
<rect x="1248.51" y="99.2" width="4.55" height="2.0" fill="#54ffff"/>
<rect x="1256.92" y="114.0" width="1.5" height="0.4" fill="#e62e2e"/>
<rect x="1256.14" y="82.2" width="3.05" height="31.0" fill="#000" stroke="#e62e2e" stroke-width="1.5"/>
<rect x="1263.80" y="61.2" width="1.5" height="2.0" fill="#e62e2e"/>
<rect x="1263.80" y="71.3" width="1.5" height="6.9" fill="#e62e2e"/>
<rect x="1263.02" y="63.9" width="3.05" height="6.6" fill="#000" stroke="#e62e2e" stroke-width="1.5"/>
<rect x="1270.68" y="44.3" width="1.5" height="35.6" fill="#54ffff"/>
<rect x="1269.15" y="49.4" width="4.55" height="14.2" fill="#54ffff"/>
<rect x="1277.56" y="61.2" width="1.5" height="14.2" fill="#54ffff"/>
<rect x="1276.04" y="66.6" width="4.55" height="2.0" fill="#54ffff"/>
<rect x="1284.44" y="55.5" width="1.5" height="11.8" fill="#e62e2e"/>
<rect x="1284.44" y="76.8" width="1.5" height="9.1" fill="#e62e2e"/>
<rect x="1283.67" y="68.0" width="3.05" height="8.0" fill="#000" stroke="#e62e2e" stroke-width="1.5"/>
<rect x="1291.32" y="59.9" width="1.5" height="35.1" fill="#54ffff"/>
<rect x="1289.80" y="65.6" width="4.55" height="28.4" fill="#54ffff"/>
<rect x="1298.20" y="91.0" width="1.5" height="4.1" fill="#e62e2e"/>
<rect x="1298.20" y="98.1" width="1.5" height="7.7" fill="#e62e2e"/>
<rect x="1296.68" y="95.1" width="4.55" height="3.0" fill="#e62e2e"/>
<rect x="1305.08" y="59.9" width="1.5" height="41.2" fill="#54ffff"/>
<rect x="1303.56" y="70.7" width="4.55" height="29.9" fill="#54ffff"/>
<rect x="1311.96" y="109.3" width="1.5" height="5.1" fill="#e62e2e"/>
<rect x="1311.19" y="60.7" width="3.05" height="47.9" fill="#000" stroke="#e62e2e" stroke-width="1.5"/>
<rect x="1318.85" y="61.2" width="1.5" height="5.5" fill="#e62e2e"/>
<rect x="1318.07" y="54.2" width="3.05" height="6.2" fill="#000" stroke="#e62e2e" stroke-width="1.5"/>
<rect x="1325.73" y="52.4" width="1.5" height="12.8" fill="#54ffff"/>
<rect x="1324.20" y="54.5" width="4.55" height="6.1" fill="#54ffff"/>
<rect x="1332.61" y="49.4" width="1.5" height="1.0" fill="#e62e2e"/>
<rect x="1332.61" y="61.6" width="1.5" height="7.1" fill="#e62e2e"/>
<rect x="1331.83" y="51.1" width="3.05" height="9.7" fill="#000" stroke="#e62e2e" stroke-width="1.5"/>
<rect x="1339.49" y="44.3" width="1.5" height="40.6" fill="#54ffff"/>
<rect x="1337.96" y="49.4" width="4.55" height="29.5" fill="#54ffff"/>
<rect x="1346.37" y="72.1" width="1.5" height="24.4" fill="#54ffff"/>
<rect x="1344.84" y="82.3" width="4.55" height="6.7" fill="#54ffff"/>
<rect x="1353.25" y="83.9" width="1.5" height="29.5" fill="#54ffff"/>
<rect x="1351.72" y="86.0" width="4.55" height="1.6" fill="#54ffff"/>
<rect x="1360.13" y="89.0" width="1.5" height="42.1" fill="#54ffff"/>
<rect x="1358.60" y="89.0" width="4.55" height="42.1" fill="#54ffff"/>
<rect x="1367.01" y="128.6" width="1.5" height="23.4" fill="#54ffff"/>
<rect x="1365.49" y="140.4" width="4.55" height="11.6" fill="#54ffff"/>
<rect x="1373.89" y="140.8" width="1.5" height="30.9" fill="#54ffff"/>
<rect x="1372.37" y="149.9" width="4.55" height="14.2" fill="#54ffff"/>
<rect x="1380.77" y="152.6" width="1.5" height="4.5" fill="#e62e2e"/>
<rect x="1380.77" y="171.3" width="1.5" height="0.4" fill="#e62e2e"/>
<rect x="1380.00" y="157.8" width="3.05" height="12.7" fill="#000" stroke="#e62e2e" stroke-width="1.5"/>
<rect x="1387.65" y="206.9" width="1.5" height="61.4" fill="#54ffff"/>
<rect x="1386.13" y="207.6" width="4.55" height="44.0" fill="#54ffff"/>
<rect x="1394.53" y="236.7" width="1.5" height="5.4" fill="#e62e2e"/>
<rect x="1394.53" y="248.3" width="1.5" height="12.2" fill="#e62e2e"/>
<rect x="1393.76" y="242.9" width="3.05" height="4.6" fill="#000" stroke="#e62e2e" stroke-width="1.5"/>
<rect x="1401.41" y="239.9" width="1.5" height="19.9" fill="#e62e2e"/>
<rect x="1401.41" y="270.6" width="1.5" height="3.1" fill="#e62e2e"/>
<rect x="1400.64" y="260.5" width="3.05" height="9.3" fill="#000" stroke="#e62e2e" stroke-width="1.5"/>
<rect x="1408.30" y="260.5" width="1.5" height="25.5" fill="#54ffff"/>
<rect x="1406.77" y="271.0" width="4.55" height="10.8" fill="#54ffff"/>
<rect x="1415.18" y="267.5" width="1.5" height="21.4" fill="#e62e2e"/>
<rect x="1414.40" y="234.8" width="3.05" height="32.0" fill="#000" stroke="#e62e2e" stroke-width="1.5"/>
<rect x="1422.06" y="242.8" width="1.5" height="16.0" fill="#54ffff"/>
<rect x="1420.53" y="251.7" width="4.55" height="1.4" fill="#54ffff"/>
<rect x="1428.94" y="251.7" width="1.5" height="12.2" fill="#e62e2e"/>
<rect x="1428.16" y="264.6" width="3.05" height="5.7" fill="#000" stroke="#e62e2e" stroke-width="1.5"/>
<rect x="1435.82" y="253.7" width="1.5" height="1.4" fill="#e62e2e"/>
<rect x="1435.04" y="234.1" width="3.05" height="18.8" fill="#000" stroke="#e62e2e" stroke-width="1.5"/>
<rect x="1442.45" y="238.1" width="1.5" height="0.7" fill="#e62e2e"/>
<rect x="1441.67" y="226.0" width="3.05" height="11.4" fill="#000" stroke="#e62e2e" stroke-width="1.5"/>
</g>
<polyline points="5.0,55.0 33.4,59.4 66.8,64.1 100.3,68.1 133.7,72.4 167.1,77.8 200.5,81.8 234.0,87.8 267.4,93.5 300.8,100.2 334.2,106.8 367.6,116.2 401.0,121.2 434.5,127.9 467.9,135.3 490.0,141.7 523.4,148.4 556.8,158.4 590.3,166.8 623.7,174.5 650.4,181.8 690.5,191.8 724.0,198.5 757.4,208.5 790.8,215.2 814.2,219.6 857.6,231.9 891.0,240.3 924.5,249.7 957.9,258.7 980.0,264.0 1013.4,273.4 1046.8,281.1 1070.2,286.1 1113.7,289.4 1147.1,291.8 1180.5,294.1 1214.0,297.5 1230.7,298.8 1280.8,298.5 1314.2,297.5 1354.3,296.8 1361.0,295.1 1371.0,295.1 1374.4,296.8 1407.8,297.8 1427.9,299.1" fill="none" stroke="#00e000" stroke-width="1.4" stroke-linejoin="round"/>
<polyline points="5.4,238.1 12.2,247.9 19.1,257.7 26.0,265.4 32.9,272.5 39.8,280.7 46.6,287.0 53.5,292.7 60.4,297.4 67.3,301.3 74.2,304.5 81.0,308.4 87.9,309.6 94.8,309.7 101.7,307.6 108.6,304.7 115.5,302.8 122.3,301.5 129.2,298.7 136.1,296.5 143.0,294.5 149.9,293.8 156.7,293.9 163.6,296.8 170.5,298.2 177.4,299.1 184.3,300.3 191.1,301.2 198.0,302.1 204.9,302.5 211.8,304.3 218.7,306.2 225.5,310.7 232.4,315.2 239.3,320.0 246.2,325.3 253.1,329.6 260.0,333.6 266.8,336.0 273.7,338.7 280.6,340.4 287.5,341.2 294.4,341.7 301.2,341.4 308.1,342.1 315.0,343.2 321.9,346.1 328.8,348.6 335.6,351.8 342.5,355.1 349.4,356.9 356.3,357.4 363.2,357.0 370.0,358.3 376.9,359.2 383.8,358.8 390.7,358.7 397.6,356.8 404.4,356.7 411.3,356.0 418.2,355.3 425.1,352.9 432.0,353.0 438.9,353.0 445.7,353.7 452.6,357.1 459.5,359.4 466.4,363.2 473.3,366.6 480.1,369.4 487.0,374.1 493.9,377.9 500.8,378.7 507.7,380.3 514.5,382.9 521.4,386.5 528.3,390.0 535.2,397.1 542.1,403.0 548.9,408.7 555.8,413.8 562.7,417.9 569.6,419.7 576.5,421.6 583.3,423.8 590.2,422.3 597.1,422.5 604.0,420.8 610.9,417.9 617.8,415.8 624.6,410.8 631.5,407.3 638.4,405.9 645.3,404.5 652.2,403.1 659.0,401.8 665.9,402.5 672.8,401.5 679.7,401.4 686.6,401.3 693.4,402.4 700.3,404.8 707.2,404.9 714.1,404.5 721.0,404.5 727.8,405.4 734.7,405.2 741.6,406.5 748.5,408.1 755.4,409.1 762.2,410.0 769.1,412.2 776.0,415.2 782.9,417.2 789.8,420.1 796.7,423.2 803.5,424.9 810.4,426.3 817.3,428.2 824.2,431.0 831.1,433.4 837.9,436.0 844.8,441.2 851.7,446.7 858.6,450.4 865.5,452.4 872.3,454.6 879.2,455.7 886.1,457.4 893.0,458.7 899.9,461.4 906.7,462.2 913.6,462.9 920.5,463.4 927.4,462.1 934.3,460.0 941.2,458.3 948.0,456.7 954.9,454.4 961.8,451.6 968.7,448.5 975.6,445.8 982.4,442.7 989.3,439.4 996.2,436.5 1003.1,433.2 1010.0,429.2 1016.8,424.2 1023.7,419.1 1030.6,415.5 1037.5,409.5 1044.4,404.4 1051.2,399.2 1058.1,393.8 1065.0,388.1 1071.9,378.4 1078.8,368.4 1085.6,358.0 1092.5,348.2 1099.4,337.4 1106.3,325.5 1113.2,312.6 1120.1,298.1 1126.9,283.6 1133.8,273.9 1140.7,263.6 1147.6,252.8 1154.5,244.2 1161.3,236.8 1168.2,227.1 1175.1,217.6 1182.0,208.3 1188.9,199.0 1195.7,189.3 1202.6,181.0 1209.5,178.8 1216.4,177.3 1223.3,175.4 1230.1,174.0 1237.0,171.3 1243.9,167.4 1250.8,164.0 1257.7,160.9 1264.5,157.0 1271.4,149.4 1278.3,143.6 1285.2,138.7 1292.1,134.2 1299.0,128.7 1305.8,124.6 1312.7,120.3 1319.6,115.5 1326.5,111.1 1333.4,106.4 1340.2,103.2 1347.1,98.8 1354.0,93.1 1360.9,90.2 1367.8,87.7 1374.6,88.4 1381.5,91.0 1388.4,98.5 1395.3,106.5 1402.2,116.3 1409.0,127.3 1415.9,135.5 1422.8,144.8 1429.7,153.3 1436.6,160.2 1443.2,166.4" fill="none" stroke="#ff00ff" stroke-width="1.25" stroke-linejoin="round"/>
<polyline points="5.4,297.1 12.2,306.6 19.1,313.8 26.0,316.5 32.9,316.8 39.8,317.9 46.6,316.6 53.5,316.5 60.4,313.5 67.3,313.5 74.2,312.0 81.0,310.1 87.9,305.4 94.8,302.8 101.7,298.4 108.6,291.4 115.5,289.0 122.3,286.5 129.2,283.8 136.1,279.4 143.0,277.1 149.9,277.4 156.7,282.4 163.6,290.8 170.5,297.9 177.4,306.7 184.3,311.6 191.1,315.9 198.0,320.4 204.9,325.7 211.8,331.5 218.7,334.9 225.5,339.1 232.4,339.6 239.3,342.1 246.2,343.8 253.1,347.6 260.0,351.3 266.8,351.6 273.7,351.8 280.6,349.3 287.5,347.5 294.4,344.4 301.2,343.1 308.1,342.1 315.0,342.7 321.9,344.6 328.8,345.9 335.6,352.0 342.5,358.4 349.4,364.4 356.3,367.3 363.2,369.7 370.0,373.4 376.9,376.3 383.8,374.9 390.7,372.8 397.6,367.6 404.4,361.4 411.3,353.6 418.2,346.1 425.1,338.5 432.0,336.4 438.9,332.6 445.7,331.1 452.6,339.2 459.5,345.9 466.4,358.7 473.3,371.8 480.1,385.3 487.0,402.2 493.9,417.3 500.8,420.9 507.7,427.9 514.5,434.7 521.4,433.8 528.3,434.1 535.2,435.4 542.1,434.2 548.9,432.1 555.8,425.5 562.7,418.6 569.6,418.4 576.5,415.4 583.3,412.8 590.2,410.8 597.1,411.0 604.0,406.2 610.9,401.5 617.8,399.5 624.6,396.2 631.5,396.0 638.4,393.5 645.3,393.5 652.2,393.3 659.0,392.8 665.9,394.0 672.8,396.8 679.7,401.2 686.6,403.1 693.4,408.6 700.3,413.5 707.2,416.3 714.1,415.4 721.0,415.7 727.8,417.9 734.7,416.5 741.6,416.1 748.5,415.0 755.4,415.0 762.2,411.3 769.1,410.9 776.0,414.0 782.9,419.0 789.8,424.5 796.7,428.4 803.5,433.3 810.4,436.5 817.3,441.4 824.2,447.1 831.1,455.4 837.9,461.0 844.8,468.3 851.7,474.4 858.6,476.2 865.5,476.4 872.3,475.8 879.2,475.0 886.1,473.3 893.0,470.3 899.9,467.4 906.7,463.3 913.6,457.6 920.5,452.4 927.4,448.0 934.3,443.7 941.2,440.7 948.0,438.5 954.9,435.6 961.8,432.8 968.7,429.5 975.6,428.3 982.4,427.8 989.3,426.4 996.2,425.1 1003.1,422.7 1010.0,417.7 1016.8,409.8 1023.7,402.6 1030.6,398.2 1037.5,389.5 1044.4,380.5 1051.2,370.5 1058.1,361.3 1065.0,351.1 1071.9,334.1 1078.8,319.0 1085.6,306.2 1092.5,293.9 1099.4,276.7 1106.3,261.5 1113.2,244.8 1120.1,225.7 1126.9,206.0 1133.8,196.8 1140.7,193.0 1147.6,186.5 1154.5,182.2 1161.3,179.6 1168.2,177.5 1175.1,173.7 1182.0,171.7 1188.9,172.3 1195.7,172.6 1202.6,165.3 1209.5,164.5 1216.4,168.1 1223.3,168.6 1230.1,168.3 1237.0,165.1 1243.9,161.1 1250.8,156.3 1257.7,149.5 1264.5,141.4 1271.4,133.5 1278.3,122.7 1285.2,109.2 1292.1,99.8 1299.0,89.1 1305.8,84.1 1312.7,79.5 1319.6,74.7 1326.5,72.6 1333.4,71.4 1340.2,72.9 1347.1,74.9 1354.0,77.0 1360.9,80.6 1367.8,86.3 1374.6,92.7 1381.5,102.4 1388.4,122.2 1395.3,140.4 1402.2,161.3 1409.0,181.6 1415.9,196.1 1422.8,212.7 1429.7,226.0 1436.6,234.1 1443.2,240.2" fill="none" stroke="#ffff00" stroke-width="1.25" stroke-linejoin="round"/>
<polyline points="5.4,314.7 12.2,322.8 19.1,331.6 26.0,326.5 32.9,323.2 39.8,321.2 46.6,310.3 53.5,301.3 60.4,300.6 67.3,303.9 74.2,302.8 81.0,309.9 87.9,309.5 94.8,305.1 101.7,293.0 108.6,280.0 115.5,268.1 122.3,263.4 129.2,262.5 136.1,265.7 143.0,274.1 149.9,286.7 156.7,301.3 163.6,319.1 170.5,330.1 177.4,339.3 184.3,336.4 191.1,330.4 198.0,321.7 204.9,321.2 211.8,323.7 218.7,333.5 225.5,347.7 232.4,357.5 239.3,362.9 246.2,364.0 253.1,361.7 260.0,354.9 266.8,345.7 273.7,340.6 280.6,334.7 287.5,333.4 294.4,333.9 301.2,340.6 308.1,343.6 315.0,350.6 321.9,355.8 328.8,358.0 335.6,363.5 342.5,373.1 349.4,378.3 356.3,378.9 363.2,381.4 370.0,383.4 376.9,379.5 383.8,371.6 390.7,366.8 397.6,353.9 404.4,339.4 411.3,327.7 418.2,320.6 425.1,310.3 432.0,318.9 438.9,325.8 445.7,334.6 452.6,357.8 459.5,381.5 466.4,398.5 473.3,417.8 480.1,435.9 487.0,446.6 493.9,453.0 500.8,443.4 507.7,438.0 514.5,433.6 521.4,420.9 528.3,415.2 535.2,427.5 542.1,430.5 548.9,430.6 555.8,430.1 562.7,422.0 569.6,409.3 576.5,400.3 583.3,395.1 590.2,391.6 597.1,400.0 604.0,403.1 610.9,402.7 617.8,404.0 624.6,400.7 631.5,392.1 638.4,383.8 645.3,384.4 652.2,382.7 659.0,384.9 665.9,395.8 672.8,409.8 679.7,418.1 686.6,423.6 693.4,432.3 700.3,431.2 707.2,422.8 714.1,412.8 721.0,407.7 727.8,403.5 734.7,401.7 741.6,409.4 748.5,417.2 755.4,422.3 762.2,419.1 769.1,420.1 776.0,418.7 782.9,420.7 789.8,426.7 796.7,437.7 803.5,446.5 810.4,454.3 817.3,462.0 824.2,467.4 831.1,473.2 837.9,475.6 844.8,482.3 851.7,486.8 858.6,485.0 865.5,479.5 872.3,476.0 879.2,467.7 886.1,459.9 893.0,455.7 899.9,455.3 906.7,450.5 913.6,447.5 920.5,444.9 927.4,440.2 934.3,432.1 941.2,431.0 948.0,429.5 954.9,426.2 961.8,425.3 968.7,426.9 975.6,425.6 982.4,426.2 989.3,426.6 996.2,424.9 1003.1,418.4 1010.0,409.8 1016.8,393.5 1023.7,378.6 1030.6,371.6 1037.5,360.5 1044.4,351.2 1051.2,347.6 1058.1,344.0 1065.0,330.5 1071.9,307.7 1078.8,286.9 1085.6,264.9 1092.5,243.8 1099.4,222.8 1106.3,215.2 1113.2,202.7 1120.1,186.5 1126.9,168.2 1133.8,170.8 1140.7,170.8 1147.6,170.3 1154.5,177.9 1161.3,191.0 1168.2,184.2 1175.1,176.6 1182.0,173.2 1188.9,166.7 1195.7,154.2 1202.6,146.3 1209.5,152.4 1216.4,163.0 1223.3,170.6 1230.1,182.4 1237.0,183.9 1243.9,169.8 1250.8,149.6 1257.7,128.3 1264.5,100.5 1271.4,83.1 1278.3,75.6 1285.2,68.8 1292.1,71.4 1299.0,77.7 1305.8,85.1 1312.7,83.4 1319.6,80.6 1326.5,73.9 1333.4,65.0 1340.2,60.6 1347.1,66.4 1354.0,73.3 1360.9,87.4 1367.8,107.7 1374.6,124.8 1381.5,138.4 1388.4,171.2 1395.3,193.4 1402.2,215.0 1409.0,238.5 1415.9,253.9 1422.8,254.2 1429.7,258.5 1436.6,253.2 1443.2,241.9" fill="none" stroke="#ffffff" stroke-width="1.25" stroke-linejoin="round"/>
<clipPath id="mc"><rect x="3" y="41" width="1465" height="477"/></clipPath><g clip-path="url(#mc)">
<path d="M4.8 339 L7.2 339 L13.5 345.8 L13.5 347.6 L9.2 347.6 L9.2 355.9 L2.8 355.9 L2.8 347.6 L-1.5 347.6 L-1.5 345.8 Z" fill="#ff0000"/>
<path d="M26.3 339.8 L28.7 339.8 L35.0 346.6 L35.0 348.40000000000003 L30.7 348.40000000000003 L30.7 356.7 L24.3 356.7 L24.3 348.40000000000003 L20.0 348.40000000000003 L20.0 346.6 Z" fill="#ff0000"/>
<path d="M170.3 371.6 L172.7 371.6 L179.0 378.40000000000003 L179.0 380.20000000000005 L174.7 380.20000000000005 L174.7 388.5 L168.3 388.5 L168.3 380.20000000000005 L164.0 380.20000000000005 L164.0 378.40000000000003 Z" fill="#ff0000"/>
<path d="M238.8 371.6 L241.2 371.6 L247.5 378.40000000000003 L247.5 380.20000000000005 L243.2 380.20000000000005 L243.2 388.5 L236.8 388.5 L236.8 380.20000000000005 L232.5 380.20000000000005 L232.5 378.40000000000003 Z" fill="#ff0000"/>
<path d="M328.3 378 L330.7 378 L337.0 384.8 L337.0 386.6 L332.7 386.6 L332.7 394.9 L326.3 394.9 L326.3 386.6 L322.0 386.6 L322.0 384.8 Z" fill="#ff0000"/>
<path d="M355.8 394 L358.2 394 L364.5 400.8 L364.5 402.6 L360.2 402.6 L360.2 410.9 L353.8 410.9 L353.8 402.6 L349.5 402.6 L349.5 400.8 Z" fill="#ff0000"/>
<path d="M376.3 400.5 L378.7 400.5 L385.0 407.3 L385.0 409.1 L380.7 409.1 L380.7 417.4 L374.3 417.4 L374.3 409.1 L370.0 409.1 L370.0 407.3 Z" fill="#ff0000"/>
<path d="M493.3 507.7 L495.7 507.7 L502.0 514.5 L502.0 516.3 L497.7 516.3 L497.7 524.6 L491.3 524.6 L491.3 516.3 L487.0 516.3 L487.0 514.5 Z" fill="#ff0000"/>
<path d="M686.3 446 L688.7 446 L695.0 452.8 L695.0 454.6 L690.7 454.6 L690.7 462.9 L684.3 462.9 L684.3 454.6 L680.0 454.6 L680.0 452.8 Z" fill="#ff0000"/>
<path d="M830.8 488.6 L833.2 488.6 L839.5 495.40000000000003 L839.5 497.20000000000005 L835.2 497.20000000000005 L835.2 505.5 L828.8 505.5 L828.8 497.20000000000005 L824.5 497.20000000000005 L824.5 495.40000000000003 Z" fill="#ff0000"/>
<path d="M851.3 503.9 L853.7 503.9 L860.0 510.7 L860.0 512.5 L855.7 512.5 L855.7 520.8 L849.3 520.8 L849.3 512.5 L845.0 512.5 L845.0 510.7 Z" fill="#ff0000"/>
<path d="M1030.3 407.6 L1032.7 407.6 L1039.0 414.40000000000003 L1039.0 416.20000000000005 L1034.7 416.20000000000005 L1034.7 424.5 L1028.3 424.5 L1028.3 416.20000000000005 L1024.0 416.20000000000005 L1024.0 414.40000000000003 Z" fill="#ff0000"/>
<path d="M1360.3 164.2 L1362.7 164.2 L1369.0 171.0 L1369.0 172.79999999999998 L1364.7 172.79999999999998 L1364.7 181.1 L1358.3 181.1 L1358.3 172.79999999999998 L1354.0 172.79999999999998 L1354.0 171.0 Z" fill="#ff0000"/>
<path d="M1415.3 292.3 L1417.7 292.3 L1424.0 299.1 L1424.0 300.90000000000003 L1419.7 300.90000000000003 L1419.7 309.2 L1413.3 309.2 L1413.3 300.90000000000003 L1409.0 300.90000000000003 L1409.0 299.1 Z" fill="#ff0000"/>
<path d="M123.0 257.2 L130.0 249.7 L126.0 249.7 L126.0 241.7 L120.0 241.7 L120.0 249.7 L116.0 249.7 Z" fill="none" stroke="#00e800" stroke-width="1.3"/>
<path d="M433.0 323 L440.0 315.5 L436.0 315.5 L436.0 307.5 L430.0 307.5 L430.0 315.5 L426.0 315.5 Z" fill="none" stroke="#00e800" stroke-width="1.3"/>
<path d="M577.5 385.1 L584.5 377.6 L580.5 377.6 L580.5 369.6 L574.5 369.6 L574.5 377.6 L570.5 377.6 Z" fill="none" stroke="#00e800" stroke-width="1.3"/>
<path d="M646.0 368.2 L653.0 360.7 L649.0 360.7 L649.0 352.7 L643.0 352.7 L643.0 360.7 L639.0 360.7 Z" fill="none" stroke="#00e800" stroke-width="1.3"/>
<path d="M887.0 445 L894.0 437.5 L890.0 437.5 L890.0 429.5 L884.0 429.5 L884.0 437.5 L880.0 437.5 Z" fill="none" stroke="#00e800" stroke-width="1.3"/>
<path d="M900.5 441.6 L907.5 434.1 L903.5 434.1 L903.5 426.1 L897.5 426.1 L897.5 434.1 L893.5 434.1 Z" fill="none" stroke="#00e800" stroke-width="1.3"/>
<path d="M921.5 426.9 L928.5 419.4 L924.5 419.4 L924.5 411.4 L918.5 411.4 L918.5 419.4 L914.5 419.4 Z" fill="none" stroke="#00e800" stroke-width="1.3"/>
<path d="M942.0 411.8 L949.0 404.3 L945.0 404.3 L945.0 396.3 L939.0 396.3 L939.0 404.3 L935.0 404.3 Z" fill="none" stroke="#00e800" stroke-width="1.3"/>
<path d="M976.5 416.5 L983.5 409.0 L979.5 409.0 L979.5 401.0 L973.5 401.0 L973.5 409.0 L969.5 409.0 Z" fill="none" stroke="#00e800" stroke-width="1.3"/>
<path d="M1134.5 155.1 L1141.5 147.6 L1137.5 147.6 L1137.5 139.6 L1131.5 139.6 L1131.5 147.6 L1127.5 147.6 Z" fill="none" stroke="#00e800" stroke-width="1.3"/>
<path d="M1189.5 140.5 L1196.5 133.0 L1192.5 133.0 L1192.5 125.0 L1186.5 125.0 L1186.5 133.0 L1182.5 133.0 Z" fill="none" stroke="#00e800" stroke-width="1.3"/>
<path d="M1203.5 137.5 L1210.5 130.0 L1206.5 130.0 L1206.5 122.0 L1200.5 122.0 L1200.5 130.0 L1196.5 130.0 Z" fill="none" stroke="#00e800" stroke-width="1.3"/>
<path d="M1286.0 50.4 L1293.0 42.9 L1289.0 42.9 L1289.0 34.9 L1283.0 34.9 L1283.0 42.9 L1279.0 42.9 Z" fill="none" stroke="#00e800" stroke-width="1.3"/>
</g>
<g fill="#0000e0">
<rect x="2" y="79.05" width="1465" height="1.9"/>
<rect x="2" y="181.05" width="1465" height="1.9"/>
<rect x="2" y="218.45" width="1465" height="1.9"/>
<rect x="2" y="299.35" width="1465" height="1.9"/>
</g>
<g>
<rect x="3.09" y="679.4" width="4.55" height="31.6" fill="#54ffff"/>
<rect x="9.97" y="679.4" width="4.55" height="31.6" fill="#54ffff"/>
<rect x="17.60" y="679.3" width="3.05" height="31.0" fill="#000" stroke="#e62e2e" stroke-width="1.5"/>
<rect x="24.48" y="680.6" width="3.05" height="29.6" fill="#000" stroke="#e62e2e" stroke-width="1.5"/>
<rect x="31.36" y="681.8" width="3.05" height="28.5" fill="#000" stroke="#e62e2e" stroke-width="1.5"/>
<rect x="37.49" y="680.2" width="4.55" height="30.8" fill="#54ffff"/>
<rect x="45.12" y="674.3" width="3.05" height="36.0" fill="#000" stroke="#e62e2e" stroke-width="1.5"/>
<rect x="51.25" y="680.2" width="4.55" height="30.8" fill="#54ffff"/>
<rect x="58.13" y="683.9" width="4.55" height="27.1" fill="#54ffff"/>
<rect x="65.01" y="683.9" width="4.55" height="27.1" fill="#54ffff"/>
<rect x="71.89" y="681.9" width="4.55" height="29.1" fill="#54ffff"/>
<rect x="78.77" y="681.6" width="4.55" height="29.4" fill="#54ffff"/>
<rect x="86.41" y="674.3" width="3.05" height="36.0" fill="#000" stroke="#e62e2e" stroke-width="1.5"/>
<rect x="93.29" y="668.4" width="3.05" height="41.8" fill="#000" stroke="#e62e2e" stroke-width="1.5"/>
<rect x="100.17" y="654.7" width="3.05" height="55.5" fill="#000" stroke="#e62e2e" stroke-width="1.5"/>
<rect x="106.30" y="669.4" width="4.55" height="41.6" fill="#54ffff"/>
<rect x="113.18" y="669.4" width="4.55" height="41.6" fill="#54ffff"/>
<rect x="120.06" y="674.9" width="4.55" height="36.1" fill="#54ffff"/>
<rect x="126.94" y="672.7" width="4.55" height="38.3" fill="#54ffff"/>
<rect x="134.57" y="682.1" width="3.05" height="28.1" fill="#000" stroke="#e62e2e" stroke-width="1.5"/>
<rect x="140.70" y="674.4" width="4.55" height="36.6" fill="#54ffff"/>
<rect x="147.58" y="667.3" width="4.55" height="43.7" fill="#54ffff"/>
<rect x="154.46" y="678.2" width="4.55" height="32.8" fill="#54ffff"/>
<rect x="161.34" y="678.2" width="4.55" height="32.8" fill="#54ffff"/>
<rect x="168.98" y="675.6" width="3.05" height="34.6" fill="#000" stroke="#e62e2e" stroke-width="1.5"/>
<rect x="175.11" y="674.9" width="4.55" height="36.1" fill="#54ffff"/>
<rect x="182.74" y="672.9" width="3.05" height="37.3" fill="#000" stroke="#e62e2e" stroke-width="1.5"/>
<rect x="189.62" y="680.6" width="3.05" height="29.6" fill="#000" stroke="#e62e2e" stroke-width="1.5"/>
<rect x="196.50" y="679.0" width="3.05" height="31.3" fill="#000" stroke="#e62e2e" stroke-width="1.5"/>
<rect x="203.38" y="683.0" width="3.05" height="27.3" fill="#000" stroke="#e62e2e" stroke-width="1.5"/>
<rect x="209.51" y="680.2" width="4.55" height="30.8" fill="#54ffff"/>
<rect x="217.14" y="682.6" width="3.05" height="27.6" fill="#000" stroke="#e62e2e" stroke-width="1.5"/>
<rect x="223.27" y="681.9" width="4.55" height="29.1" fill="#54ffff"/>
<rect x="230.90" y="684.3" width="3.05" height="25.9" fill="#000" stroke="#e62e2e" stroke-width="1.5"/>
<rect x="237.78" y="683.0" width="3.05" height="27.3" fill="#000" stroke="#e62e2e" stroke-width="1.5"/>
<rect x="243.91" y="686.9" width="4.55" height="24.1" fill="#54ffff"/>
<rect x="251.55" y="685.6" width="3.05" height="24.6" fill="#000" stroke="#e62e2e" stroke-width="1.5"/>
<rect x="258.43" y="685.6" width="3.05" height="24.6" fill="#000" stroke="#e62e2e" stroke-width="1.5"/>
<rect x="265.31" y="677.3" width="3.05" height="33.0" fill="#000" stroke="#e62e2e" stroke-width="1.5"/>
<rect x="271.44" y="681.0" width="4.55" height="30.0" fill="#54ffff"/>
<rect x="278.32" y="685.6" width="4.55" height="25.4" fill="#54ffff"/>
<rect x="285.20" y="683.6" width="4.55" height="27.4" fill="#54ffff"/>
<rect x="292.08" y="683.6" width="4.55" height="27.4" fill="#54ffff"/>
<rect x="299.71" y="685.1" width="3.05" height="25.1" fill="#000" stroke="#e62e2e" stroke-width="1.5"/>
<rect x="306.59" y="683.5" width="3.05" height="26.8" fill="#000" stroke="#e62e2e" stroke-width="1.5"/>
<rect x="312.72" y="685.2" width="4.55" height="25.8" fill="#54ffff"/>
<rect x="319.60" y="685.6" width="4.55" height="25.4" fill="#54ffff"/>
<rect x="327.23" y="686.0" width="3.05" height="24.3" fill="#000" stroke="#e62e2e" stroke-width="1.5"/>
<rect x="333.36" y="685.2" width="4.55" height="25.8" fill="#54ffff"/>
<rect x="340.25" y="685.2" width="4.55" height="25.8" fill="#54ffff"/>
<rect x="347.13" y="686.1" width="4.55" height="24.9" fill="#54ffff"/>
<rect x="354.76" y="687.3" width="3.05" height="22.9" fill="#000" stroke="#e62e2e" stroke-width="1.5"/>
<rect x="360.89" y="686.1" width="4.55" height="24.9" fill="#54ffff"/>
<rect x="367.77" y="688.6" width="4.55" height="22.4" fill="#54ffff"/>
<rect x="375.40" y="682.1" width="3.05" height="28.1" fill="#000" stroke="#e62e2e" stroke-width="1.5"/>
<rect x="382.28" y="676.0" width="3.05" height="34.3" fill="#000" stroke="#e62e2e" stroke-width="1.5"/>
<rect x="388.41" y="685.2" width="4.55" height="25.8" fill="#54ffff"/>
<rect x="396.04" y="671.3" width="3.05" height="39.0" fill="#000" stroke="#e62e2e" stroke-width="1.5"/>
<rect x="402.92" y="683.5" width="3.05" height="26.8" fill="#000" stroke="#e62e2e" stroke-width="1.5"/>
<rect x="409.80" y="676.0" width="3.05" height="34.3" fill="#000" stroke="#e62e2e" stroke-width="1.5"/>
<rect x="415.93" y="678.5" width="4.55" height="32.5" fill="#54ffff"/>
<rect x="423.57" y="678.5" width="3.05" height="31.8" fill="#000" stroke="#e62e2e" stroke-width="1.5"/>
<rect x="429.70" y="673.2" width="4.55" height="37.8" fill="#54ffff"/>
<rect x="437.33" y="682.1" width="3.05" height="28.1" fill="#000" stroke="#e62e2e" stroke-width="1.5"/>
<rect x="444.21" y="683.5" width="3.05" height="26.8" fill="#000" stroke="#e62e2e" stroke-width="1.5"/>
<rect x="450.34" y="661.5" width="4.55" height="49.5" fill="#54ffff"/>
<rect x="457.97" y="668.4" width="3.05" height="41.8" fill="#000" stroke="#e62e2e" stroke-width="1.5"/>
<rect x="464.10" y="681.0" width="4.55" height="30.0" fill="#54ffff"/>
<rect x="470.98" y="681.0" width="4.55" height="30.0" fill="#54ffff"/>
<rect x="477.86" y="676.5" width="4.55" height="34.5" fill="#54ffff"/>
<rect x="484.74" y="679.4" width="4.55" height="31.6" fill="#54ffff"/>
<rect x="492.37" y="674.3" width="3.05" height="36.0" fill="#000" stroke="#e62e2e" stroke-width="1.5"/>
<rect x="499.25" y="659.2" width="3.05" height="51.0" fill="#000" stroke="#e62e2e" stroke-width="1.5"/>
<rect x="505.38" y="666.0" width="4.55" height="45.0" fill="#54ffff"/>
<rect x="513.02" y="670.9" width="3.05" height="39.3" fill="#000" stroke="#e62e2e" stroke-width="1.5"/>
<rect x="519.90" y="671.3" width="3.05" height="39.0" fill="#000" stroke="#e62e2e" stroke-width="1.5"/>
<rect x="526.03" y="670.5" width="4.55" height="40.5" fill="#54ffff"/>
<rect x="532.91" y="676.4" width="4.55" height="34.6" fill="#54ffff"/>
<rect x="540.54" y="669.8" width="3.05" height="40.5" fill="#000" stroke="#e62e2e" stroke-width="1.5"/>
<rect x="547.42" y="666.8" width="3.05" height="43.5" fill="#000" stroke="#e62e2e" stroke-width="1.5"/>
<rect x="553.55" y="659.8" width="4.55" height="51.2" fill="#54ffff"/>
<rect x="561.18" y="654.7" width="3.05" height="55.5" fill="#000" stroke="#e62e2e" stroke-width="1.5"/>
<rect x="567.31" y="663.5" width="4.55" height="47.5" fill="#54ffff"/>
<rect x="574.19" y="667.7" width="4.55" height="43.3" fill="#54ffff"/>
<rect x="581.07" y="666.8" width="4.55" height="44.2" fill="#54ffff"/>
<rect x="587.95" y="670.5" width="4.55" height="40.5" fill="#54ffff"/>
<rect x="594.84" y="671.9" width="4.55" height="39.1" fill="#54ffff"/>
<rect x="602.47" y="667.6" width="3.05" height="42.7" fill="#000" stroke="#e62e2e" stroke-width="1.5"/>
<rect x="609.35" y="648.9" width="3.05" height="61.4" fill="#000" stroke="#e62e2e" stroke-width="1.5"/>
<rect x="615.48" y="651.0" width="4.55" height="60.0" fill="#54ffff"/>
<rect x="623.11" y="659.6" width="3.05" height="50.7" fill="#000" stroke="#e62e2e" stroke-width="1.5"/>
<rect x="629.99" y="651.7" width="3.05" height="58.5" fill="#000" stroke="#e62e2e" stroke-width="1.5"/>
<rect x="636.87" y="654.2" width="3.05" height="56.0" fill="#000" stroke="#e62e2e" stroke-width="1.5"/>
<rect x="643.00" y="656.8" width="4.55" height="54.2" fill="#54ffff"/>
<rect x="650.63" y="665.4" width="3.05" height="44.8" fill="#000" stroke="#e62e2e" stroke-width="1.5"/>
<rect x="656.76" y="673.2" width="4.55" height="37.8" fill="#54ffff"/>
<rect x="663.64" y="661.8" width="4.55" height="49.2" fill="#54ffff"/>
<rect x="670.52" y="676.4" width="4.55" height="34.6" fill="#54ffff"/>
<rect x="677.41" y="679.4" width="4.55" height="31.6" fill="#54ffff"/>
<rect x="685.04" y="675.1" width="3.05" height="35.1" fill="#000" stroke="#e62e2e" stroke-width="1.5"/>
<rect x="691.17" y="670.2" width="4.55" height="40.8" fill="#54ffff"/>
<rect x="698.80" y="676.8" width="3.05" height="33.5" fill="#000" stroke="#e62e2e" stroke-width="1.5"/>
<rect x="705.68" y="659.2" width="3.05" height="51.0" fill="#000" stroke="#e62e2e" stroke-width="1.5"/>
<rect x="712.56" y="671.8" width="3.05" height="38.5" fill="#000" stroke="#e62e2e" stroke-width="1.5"/>
<rect x="719.44" y="673.4" width="3.05" height="36.8" fill="#000" stroke="#e62e2e" stroke-width="1.5"/>
<rect x="725.57" y="674.9" width="4.55" height="36.1" fill="#54ffff"/>
<rect x="732.45" y="682.2" width="4.55" height="28.8" fill="#54ffff"/>
<rect x="739.33" y="682.2" width="4.55" height="28.8" fill="#54ffff"/>
<rect x="746.96" y="686.3" width="3.05" height="23.9" fill="#000" stroke="#e62e2e" stroke-width="1.5"/>
<rect x="753.09" y="683.6" width="4.55" height="27.4" fill="#54ffff"/>
<rect x="760.72" y="674.3" width="3.05" height="36.0" fill="#000" stroke="#e62e2e" stroke-width="1.5"/>
<rect x="766.86" y="673.2" width="4.55" height="37.8" fill="#54ffff"/>
<rect x="774.49" y="681.3" width="3.05" height="29.0" fill="#000" stroke="#e62e2e" stroke-width="1.5"/>
<rect x="780.62" y="680.2" width="4.55" height="30.8" fill="#54ffff"/>
<rect x="787.50" y="683.9" width="4.55" height="27.1" fill="#54ffff"/>
<rect x="794.38" y="681.9" width="4.55" height="29.1" fill="#54ffff"/>
<rect x="801.26" y="681.9" width="4.55" height="29.1" fill="#54ffff"/>
<rect x="808.89" y="686.3" width="3.05" height="23.9" fill="#000" stroke="#e62e2e" stroke-width="1.5"/>
<rect x="815.77" y="676.0" width="3.05" height="34.3" fill="#000" stroke="#e62e2e" stroke-width="1.5"/>
<rect x="821.90" y="681.9" width="4.55" height="29.1" fill="#54ffff"/>
<rect x="828.78" y="676.4" width="4.55" height="34.6" fill="#54ffff"/>
<rect x="836.41" y="682.6" width="3.05" height="27.6" fill="#000" stroke="#e62e2e" stroke-width="1.5"/>
<rect x="842.54" y="681.0" width="4.55" height="30.0" fill="#54ffff"/>
<rect x="850.18" y="681.0" width="3.05" height="29.3" fill="#000" stroke="#e62e2e" stroke-width="1.5"/>
<rect x="857.06" y="669.8" width="3.05" height="40.5" fill="#000" stroke="#e62e2e" stroke-width="1.5"/>
<rect x="863.94" y="667.1" width="3.05" height="43.2" fill="#000" stroke="#e62e2e" stroke-width="1.5"/>
<rect x="870.07" y="670.2" width="4.55" height="40.8" fill="#54ffff"/>
<rect x="877.70" y="663.4" width="3.05" height="46.8" fill="#000" stroke="#e62e2e" stroke-width="1.5"/>
<rect x="883.83" y="670.2" width="4.55" height="40.8" fill="#54ffff"/>
<rect x="891.46" y="675.1" width="3.05" height="35.1" fill="#000" stroke="#e62e2e" stroke-width="1.5"/>
<rect x="897.59" y="674.4" width="4.55" height="36.6" fill="#54ffff"/>
<rect x="905.22" y="673.4" width="3.05" height="36.8" fill="#000" stroke="#e62e2e" stroke-width="1.5"/>
<rect x="912.10" y="674.3" width="3.05" height="36.0" fill="#000" stroke="#e62e2e" stroke-width="1.5"/>
<rect x="918.23" y="672.7" width="4.55" height="38.3" fill="#54ffff"/>
<rect x="925.86" y="663.8" width="3.05" height="46.5" fill="#000" stroke="#e62e2e" stroke-width="1.5"/>
<rect x="932.74" y="672.3" width="3.05" height="38.0" fill="#000" stroke="#e62e2e" stroke-width="1.5"/>
<rect x="938.88" y="671.5" width="4.55" height="39.5" fill="#54ffff"/>
<rect x="946.51" y="678.8" width="3.05" height="31.5" fill="#000" stroke="#e62e2e" stroke-width="1.5"/>
<rect x="953.39" y="673.9" width="3.05" height="36.3" fill="#000" stroke="#e62e2e" stroke-width="1.5"/>
<rect x="960.27" y="671.8" width="3.05" height="38.5" fill="#000" stroke="#e62e2e" stroke-width="1.5"/>
<rect x="966.40" y="674.4" width="4.55" height="36.6" fill="#54ffff"/>
<rect x="974.03" y="675.1" width="3.05" height="35.2" fill="#000" stroke="#e62e2e" stroke-width="1.5"/>
<rect x="980.16" y="679.3" width="4.55" height="31.7" fill="#54ffff"/>
<rect x="987.79" y="674.1" width="3.05" height="36.1" fill="#000" stroke="#e62e2e" stroke-width="1.5"/>
<rect x="994.67" y="679.0" width="3.05" height="31.2" fill="#000" stroke="#e62e2e" stroke-width="1.5"/>
<rect x="1001.55" y="673.1" width="3.05" height="37.1" fill="#000" stroke="#e62e2e" stroke-width="1.5"/>
<rect x="1008.43" y="665.2" width="3.05" height="45.0" fill="#000" stroke="#e62e2e" stroke-width="1.5"/>
<rect x="1015.31" y="650.4" width="3.05" height="59.8" fill="#000" stroke="#e62e2e" stroke-width="1.5"/>
<rect x="1022.20" y="662.7" width="3.05" height="47.6" fill="#000" stroke="#e62e2e" stroke-width="1.5"/>
<rect x="1028.33" y="661.9" width="4.55" height="49.1" fill="#54ffff"/>
<rect x="1035.96" y="647.4" width="3.05" height="62.8" fill="#000" stroke="#e62e2e" stroke-width="1.5"/>
<rect x="1042.09" y="638.8" width="4.55" height="72.2" fill="#54ffff"/>
<rect x="1049.72" y="650.4" width="3.05" height="59.8" fill="#000" stroke="#e62e2e" stroke-width="1.5"/>
<rect x="1055.85" y="635.8" width="4.55" height="75.2" fill="#54ffff"/>
<rect x="1063.48" y="637.0" width="3.05" height="73.3" fill="#000" stroke="#e62e2e" stroke-width="1.5"/>
<rect x="1070.36" y="581.3" width="3.05" height="129.0" fill="#000" stroke="#e62e2e" stroke-width="1.5"/>
<rect x="1076.49" y="571.3" width="4.55" height="139.7" fill="#54ffff"/>
<rect x="1084.12" y="594.7" width="3.05" height="115.5" fill="#000" stroke="#e62e2e" stroke-width="1.5"/>
<rect x="1090.25" y="624.0" width="4.55" height="87.0" fill="#54ffff"/>
<rect x="1097.88" y="626.3" width="3.05" height="83.9" fill="#000" stroke="#e62e2e" stroke-width="1.5"/>
<rect x="1104.77" y="581.3" width="3.05" height="129.0" fill="#000" stroke="#e62e2e" stroke-width="1.5"/>
<rect x="1111.65" y="607.0" width="3.05" height="103.3" fill="#000" stroke="#e62e2e" stroke-width="1.5"/>
<rect x="1118.53" y="575.4" width="3.05" height="134.9" fill="#000" stroke="#e62e2e" stroke-width="1.5"/>
<rect x="1125.41" y="567.9" width="3.05" height="142.4" fill="#000" stroke="#e62e2e" stroke-width="1.5"/>
<rect x="1131.54" y="568.3" width="4.55" height="142.7" fill="#54ffff"/>
<rect x="1139.17" y="607.0" width="3.05" height="103.3" fill="#000" stroke="#e62e2e" stroke-width="1.5"/>
<rect x="1146.05" y="585.8" width="3.05" height="124.4" fill="#000" stroke="#e62e2e" stroke-width="1.5"/>
<rect x="1152.18" y="598.3" width="4.55" height="112.7" fill="#54ffff"/>
<rect x="1159.06" y="618.1" width="4.55" height="92.9" fill="#54ffff"/>
<rect x="1166.69" y="627.7" width="3.05" height="82.5" fill="#000" stroke="#e62e2e" stroke-width="1.5"/>
<rect x="1173.57" y="612.9" width="3.05" height="97.4" fill="#000" stroke="#e62e2e" stroke-width="1.5"/>
<rect x="1179.70" y="624.0" width="4.55" height="87.0" fill="#54ffff"/>
<rect x="1187.33" y="623.4" width="3.05" height="86.9" fill="#000" stroke="#e62e2e" stroke-width="1.5"/>
<rect x="1194.22" y="609.9" width="3.05" height="100.3" fill="#000" stroke="#e62e2e" stroke-width="1.5"/>
<rect x="1201.10" y="621.8" width="3.05" height="88.5" fill="#000" stroke="#e62e2e" stroke-width="1.5"/>
<rect x="1207.23" y="618.1" width="4.55" height="92.9" fill="#54ffff"/>
<rect x="1214.11" y="624.0" width="4.55" height="87.0" fill="#54ffff"/>
<rect x="1221.74" y="639.9" width="3.05" height="70.3" fill="#000" stroke="#e62e2e" stroke-width="1.5"/>
<rect x="1227.87" y="638.8" width="4.55" height="72.2" fill="#54ffff"/>
<rect x="1235.50" y="618.8" width="3.05" height="91.4" fill="#000" stroke="#e62e2e" stroke-width="1.5"/>
<rect x="1242.38" y="596.5" width="3.05" height="113.7" fill="#000" stroke="#e62e2e" stroke-width="1.5"/>
<rect x="1248.51" y="599.9" width="4.55" height="111.1" fill="#54ffff"/>
<rect x="1256.14" y="605.0" width="3.05" height="105.3" fill="#000" stroke="#e62e2e" stroke-width="1.5"/>
<rect x="1263.02" y="596.5" width="3.05" height="113.7" fill="#000" stroke="#e62e2e" stroke-width="1.5"/>
<rect x="1269.15" y="586.5" width="4.55" height="124.5" fill="#54ffff"/>
<rect x="1276.04" y="621.0" width="4.55" height="90.0" fill="#54ffff"/>
<rect x="1283.67" y="617.2" width="3.05" height="93.0" fill="#000" stroke="#e62e2e" stroke-width="1.5"/>
<rect x="1289.80" y="624.0" width="4.55" height="87.0" fill="#54ffff"/>
<rect x="1297.43" y="639.9" width="3.05" height="70.3" fill="#000" stroke="#e62e2e" stroke-width="1.5"/>
<rect x="1303.56" y="624.0" width="4.55" height="87.0" fill="#54ffff"/>
<rect x="1311.19" y="623.4" width="3.05" height="86.9" fill="#000" stroke="#e62e2e" stroke-width="1.5"/>
<rect x="1318.07" y="623.4" width="3.05" height="86.9" fill="#000" stroke="#e62e2e" stroke-width="1.5"/>
<rect x="1324.20" y="629.9" width="4.55" height="81.1" fill="#54ffff"/>
<rect x="1331.83" y="633.6" width="3.05" height="76.6" fill="#000" stroke="#e62e2e" stroke-width="1.5"/>
<rect x="1337.96" y="624.0" width="4.55" height="87.0" fill="#54ffff"/>
<rect x="1344.84" y="629.9" width="4.55" height="81.1" fill="#54ffff"/>
<rect x="1351.72" y="641.8" width="4.55" height="69.2" fill="#54ffff"/>
<rect x="1358.60" y="631.5" width="4.55" height="79.5" fill="#54ffff"/>
<rect x="1365.49" y="640.4" width="4.55" height="70.6" fill="#54ffff"/>
<rect x="1372.37" y="638.8" width="4.55" height="72.2" fill="#54ffff"/>
<rect x="1380.00" y="656.3" width="3.05" height="53.9" fill="#000" stroke="#e62e2e" stroke-width="1.5"/>
<rect x="1386.13" y="629.9" width="4.55" height="81.1" fill="#54ffff"/>
<rect x="1393.76" y="648.8" width="3.05" height="61.4" fill="#000" stroke="#e62e2e" stroke-width="1.5"/>
<rect x="1400.64" y="653.4" width="3.05" height="56.9" fill="#000" stroke="#e62e2e" stroke-width="1.5"/>
<rect x="1406.77" y="661.5" width="4.55" height="49.5" fill="#54ffff"/>
<rect x="1414.40" y="641.5" width="3.05" height="68.7" fill="#000" stroke="#e62e2e" stroke-width="1.5"/>
<rect x="1420.53" y="658.5" width="4.55" height="52.5" fill="#54ffff"/>
<rect x="1428.16" y="659.3" width="3.05" height="51.0" fill="#000" stroke="#e62e2e" stroke-width="1.5"/>
<rect x="1435.04" y="655.3" width="3.05" height="54.9" fill="#000" stroke="#e62e2e" stroke-width="1.5"/>
<rect x="1441.67" y="650.4" width="3.05" height="59.8" fill="#000" stroke="#e62e2e" stroke-width="1.5"/>
</g>
<polyline points="5.4,679.6 12.2,679.6 19.1,679.5 26.0,679.5 32.9,679.6 39.8,679.7 46.6,679.1 53.5,679.1 60.4,679.6 67.3,680.0 74.2,680.2 81.0,680.5 87.9,680.0 94.8,678.7 101.7,676.0 108.6,674.9 115.5,674.5 122.3,674.0 129.2,672.9 136.1,672.6 143.0,671.9 149.9,670.5 156.7,670.9 163.6,672.0 170.5,674.1 177.4,674.6 184.3,674.9 191.1,675.4 198.0,676.0 204.9,676.0 211.8,676.6 218.7,678.1 225.5,678.4 232.4,679.0 239.3,679.7 246.2,680.9 253.1,682.2 260.0,682.7 266.8,682.5 273.7,682.4 280.6,682.9 287.5,683.1 294.4,683.3 301.2,683.4 308.1,683.4 315.0,683.2 321.9,683.3 328.8,683.3 335.6,684.2 342.5,684.6 349.4,684.7 356.3,685.0 363.2,685.2 370.0,685.6 376.9,685.5 383.8,684.5 390.7,684.5 397.6,683.0 404.4,682.8 411.3,681.8 418.2,681.0 425.1,680.1 432.0,678.8 438.9,678.1 445.7,678.2 452.6,676.9 459.5,675.1 466.4,676.2 473.3,676.0 480.1,676.1 487.0,676.2 493.9,675.8 500.8,674.3 507.7,672.8 514.5,671.5 521.4,672.4 528.3,672.7 535.2,672.3 542.1,671.1 548.9,670.0 555.8,668.0 562.7,666.1 569.6,666.6 576.5,666.8 583.3,666.4 590.2,666.4 597.1,666.6 604.0,665.6 610.9,663.5 617.8,662.0 624.6,661.9 631.5,661.6 638.4,660.6 645.3,659.5 652.2,659.3 659.0,659.6 665.9,658.6 672.8,659.5 679.7,662.7 686.6,665.0 693.4,666.1 700.3,668.6 707.2,669.1 714.1,670.6 721.0,671.4 727.8,671.5 734.7,673.6 741.6,674.1 748.5,674.8 755.4,675.7 762.2,676.0 769.1,675.7 776.0,677.9 782.9,678.9 789.8,680.0 796.7,680.7 803.5,680.6 810.4,681.0 817.3,679.9 824.2,679.8 831.1,680.1 837.9,680.9 844.8,681.0 851.7,681.0 858.6,679.5 865.5,677.9 872.3,676.8 879.2,674.5 886.1,674.0 893.0,673.2 899.9,673.0 906.7,672.1 913.6,671.4 920.5,670.6 927.4,670.0 934.3,670.5 941.2,670.7 948.0,672.2 954.9,672.5 961.8,672.2 968.7,672.2 975.6,672.3 982.4,672.9 989.3,673.0 996.2,674.5 1003.1,674.6 1010.0,673.9 1016.8,671.0 1023.7,669.9 1030.6,669.0 1037.5,666.2 1044.4,662.7 1051.2,659.7 1058.1,656.0 1065.0,651.8 1071.9,642.6 1078.8,633.3 1085.6,627.7 1092.5,623.9 1099.4,620.3 1106.3,613.6 1113.2,610.4 1120.1,602.9 1126.9,596.0 1133.8,589.2 1140.7,591.8 1147.6,593.2 1154.5,593.6 1161.3,593.0 1168.2,593.1 1175.1,596.3 1182.0,598.1 1188.9,602.9 1195.7,607.1 1202.6,612.4 1209.5,613.5 1216.4,617.4 1223.3,621.5 1230.1,623.6 1237.0,622.7 1243.9,621.1 1250.8,618.7 1257.7,616.8 1264.5,615.5 1271.4,612.0 1278.3,612.3 1285.2,611.6 1292.1,610.0 1299.0,610.1 1305.8,610.7 1312.7,613.4 1319.6,615.6 1326.5,618.2 1333.4,621.9 1340.2,625.7 1347.1,626.6 1354.0,629.1 1360.9,629.8 1367.8,630.0 1374.6,631.4 1381.5,634.7 1388.4,635.5 1395.3,637.3 1402.2,639.3 1409.0,643.0 1415.9,644.1 1422.8,645.8 1429.7,648.5 1436.6,649.9 1443.2,651.0" fill="none" stroke="#ffff00" stroke-width="1.25" stroke-linejoin="round"/>
<polyline points="5.4,679.6 12.2,679.5 19.1,679.3 26.0,679.4 32.9,679.6 39.8,679.8 46.6,678.6 53.5,679.0 60.4,679.8 67.3,680.3 74.2,680.7 81.0,682.3 87.9,680.9 94.8,677.7 101.7,671.7 108.6,669.2 115.5,666.8 122.3,667.0 129.2,668.0 136.1,673.5 143.0,674.5 149.9,674.1 156.7,674.8 163.6,675.9 170.5,674.6 177.4,674.7 184.3,675.7 191.1,676.0 198.0,676.0 204.9,677.5 211.8,678.5 218.7,680.5 225.5,680.9 232.4,682.0 239.3,682.0 246.2,683.3 253.1,683.9 260.0,684.5 266.8,683.1 273.7,682.9 280.6,682.6 287.5,682.3 294.4,682.1 301.2,683.6 308.1,684.0 315.0,683.9 321.9,684.3 328.8,684.6 335.6,684.8 342.5,685.3 349.4,685.5 356.3,685.7 363.2,685.8 370.0,686.5 376.9,685.7 383.8,683.6 390.7,683.3 397.6,680.2 404.4,679.0 411.3,677.8 418.2,678.4 425.1,676.9 432.0,677.5 438.9,677.2 445.7,678.7 452.6,675.3 459.5,673.3 466.4,674.9 473.3,674.8 480.1,673.6 487.0,677.1 493.9,678.3 500.8,673.8 507.7,670.8 514.5,669.5 521.4,667.7 528.3,667.1 535.2,670.7 542.1,671.3 548.9,670.5 555.8,668.3 562.7,665.0 569.6,662.5 576.5,662.2 583.3,662.4 590.2,664.5 597.1,668.1 604.0,668.8 610.9,664.8 617.8,661.7 624.6,659.3 631.5,655.1 638.4,652.5 645.3,654.2 652.2,657.0 659.0,659.8 665.9,662.0 672.8,666.6 679.7,671.1 686.6,673.0 693.4,672.4 700.3,675.3 707.2,671.7 714.1,670.0 721.0,669.7 727.8,670.6 734.7,671.9 741.6,676.6 748.5,679.5 755.4,681.7 762.2,681.4 769.1,679.6 776.0,679.3 782.9,678.2 789.8,678.3 796.7,679.9 803.5,681.7 810.4,682.7 817.3,681.7 824.2,681.3 831.1,680.2 837.9,680.2 844.8,679.3 851.7,680.3 858.6,677.7 865.5,675.7 872.3,673.4 879.2,669.7 886.1,667.7 893.0,668.8 899.9,670.4 906.7,670.9 913.6,673.0 920.5,673.5 927.4,671.3 934.3,670.7 941.2,670.5 948.0,671.4 954.9,671.5 961.8,673.1 968.7,673.6 975.6,674.2 982.4,674.4 989.3,674.5 996.2,675.9 1003.1,675.5 1010.0,673.6 1016.8,667.6 1023.7,665.3 1030.6,662.1 1037.5,656.9 1044.4,651.8 1051.2,651.8 1058.1,646.6 1065.0,641.4 1071.9,628.2 1078.8,614.7 1085.6,603.6 1092.5,601.2 1099.4,599.1 1106.3,599.1 1113.2,606.1 1120.1,602.2 1126.9,590.8 1133.8,579.4 1140.7,584.5 1147.6,580.3 1154.5,585.0 1161.3,595.2 1168.2,606.9 1175.1,608.1 1182.0,615.9 1188.9,620.8 1195.7,619.0 1202.6,617.8 1209.5,619.0 1216.4,619.0 1223.3,622.3 1230.1,628.2 1237.0,627.6 1243.9,623.2 1250.8,618.3 1257.7,611.4 1264.5,602.7 1271.4,596.4 1278.3,601.5 1285.2,604.8 1292.1,608.7 1299.0,617.4 1305.8,624.9 1312.7,625.3 1319.6,626.5 1326.5,627.7 1333.4,626.4 1340.2,626.4 1347.1,627.9 1354.0,631.7 1360.9,632.0 1367.8,633.5 1374.6,636.5 1381.5,641.6 1388.4,639.2 1395.3,642.6 1402.2,645.0 1409.0,649.5 1415.9,646.6 1422.8,652.3 1429.7,654.4 1436.6,654.8 1443.2,652.4" fill="none" stroke="#ffffff" stroke-width="1.25" stroke-linejoin="round"/>
<clipPath id="kc"><rect x="3" y="714" width="1465" height="172"/></clipPath><g clip-path="url(#kc)">
<polyline points="5.4,842.4 12.2,857.6 19.1,837.2 26.0,793.7 32.9,765.1 39.8,779.7 46.6,751.7 53.5,748.2 60.4,760.6 67.3,776.4 74.2,786.2 81.0,834.1 87.9,797.5 94.8,768.8 101.7,756.3 108.6,754.1 115.5,767.8 122.3,780.3 129.2,789.4 136.1,789.1 143.0,813.9 149.9,846.2 156.7,872.4 163.6,883.4 170.5,859.2 177.4,855.8 184.3,832.8 191.1,820.2 198.0,817.9 204.9,793.7 211.8,820.7 218.7,837.0 225.5,864.6 232.4,854.3 239.3,827.9 246.2,825.2 253.1,812.3 260.0,805.1 266.8,765.5 273.7,755.6 280.6,760.5 287.5,782.3 294.4,821.1 301.2,840.5 308.1,823.1 315.0,853.4 321.9,870.4 328.8,867.7 335.6,878.4 342.5,874.3 349.4,871.8 356.3,846.4 363.2,837.1 370.0,854.4 376.9,809.4 383.8,774.7 390.7,759.2 397.6,742.4 404.4,744.7 411.3,750.2 418.2,760.9 425.1,754.3 432.0,799.5 438.9,838.9 445.7,860.4 452.6,876.5 459.5,869.0 466.4,874.9 473.3,881.6 480.1,873.2 487.0,878.9 493.9,851.6 500.8,807.3 507.7,790.5 514.5,781.1 521.4,778.9 528.3,779.7 535.2,803.7 542.1,807.3 548.9,796.9 555.8,802.6 562.7,768.5 569.6,762.2 576.5,764.9 583.3,768.1 590.2,777.0 597.1,803.0 604.0,810.8 610.9,798.2 617.8,808.4 624.6,781.6 631.5,774.8 638.4,759.4 645.3,792.8 652.2,807.4 659.0,818.0 665.9,864.7 672.8,880.4 679.7,885.2 686.6,866.2 693.4,874.7 700.3,860.2 707.2,796.0 714.1,757.6 721.0,753.4 727.8,786.1 734.7,805.2 741.6,831.4 748.5,836.3 755.4,831.6 762.2,809.3 769.1,834.9 776.0,842.8 782.9,858.1 789.8,874.2 796.7,869.3 803.5,867.7 810.4,859.8 817.3,850.8 824.2,847.7 831.1,851.0 837.9,845.9 844.8,857.4 851.7,861.4 858.6,803.1 865.5,761.1 872.3,748.3 879.2,757.5 886.1,768.3 893.0,764.4 899.9,774.6 906.7,759.8 913.6,754.4 920.5,781.0 927.4,764.5 934.3,762.9 941.2,793.6 948.0,806.8 954.9,805.7 961.8,789.4 968.7,806.7 975.6,819.6 982.4,845.1 989.3,845.8 996.2,803.7 1003.1,769.5 1010.0,753.4 1016.8,747.4 1023.7,750.1 1030.6,771.8 1037.5,760.7 1044.4,767.1 1051.2,771.2 1058.1,781.8 1065.0,767.3 1071.9,760.1 1078.8,771.3 1085.6,773.7 1092.5,779.4 1099.4,767.7 1106.3,775.2 1113.2,772.6 1120.1,763.5 1126.9,765.4 1133.8,826.2 1140.7,831.1 1147.6,819.1 1154.5,823.7 1161.3,856.0 1168.2,848.0 1175.1,808.1 1182.0,790.7 1188.9,775.3 1195.7,763.6 1202.6,758.1 1209.5,792.2 1216.4,836.3 1223.3,850.2 1230.1,872.7 1237.0,819.2 1243.9,777.6 1250.8,761.1 1257.7,748.7 1264.5,745.7 1271.4,755.1 1278.3,764.0 1285.2,768.9 1292.1,786.7 1299.0,813.9 1305.8,848.8 1312.7,815.6 1319.6,789.7 1326.5,785.1 1333.4,765.0 1340.2,795.9 1347.1,823.8 1354.0,835.2 1360.9,871.5 1367.8,887.4 1374.6,887.4 1381.5,880.0 1388.4,877.5 1395.3,871.0 1402.2,870.5 1409.0,873.4 1415.9,852.6 1422.8,846.1 1429.7,847.7 1436.6,828.8 1443.2,789.0" fill="none" stroke="#ff00ff" stroke-width="1.25" stroke-linejoin="round"/>
<polyline points="5.4,850.8 12.2,851.8 19.1,849.7 26.0,841.7 32.9,830.7 39.8,823.4 46.6,813.2 53.5,803.9 60.4,797.7 67.3,794.7 74.2,793.5 81.0,799.3 87.9,799.0 94.8,794.7 101.7,789.2 108.6,784.2 115.5,781.9 122.3,781.6 129.2,782.8 136.1,783.7 143.0,788.0 149.9,796.3 156.7,807.2 163.6,818.1 170.5,823.9 177.4,828.5 184.3,829.1 191.1,827.8 198.0,826.4 204.9,821.7 211.8,821.6 218.7,823.8 225.5,829.6 232.4,833.1 239.3,832.4 246.2,831.4 253.1,828.6 260.0,825.3 266.8,816.7 273.7,808.0 280.6,801.2 287.5,798.5 294.4,801.7 301.2,807.3 308.1,809.5 315.0,815.8 321.9,823.6 328.8,829.9 335.6,836.8 342.5,842.2 349.4,846.4 356.3,846.4 363.2,845.1 370.0,846.4 376.9,841.1 383.8,831.6 390.7,821.3 397.6,810.0 404.4,800.7 411.3,793.5 418.2,788.8 425.1,783.9 432.0,786.1 438.9,793.7 445.7,803.2 452.6,813.7 459.5,821.6 466.4,829.2 473.3,836.7 480.1,841.9 487.0,847.2 493.9,847.8 500.8,842.0 507.7,834.7 514.5,827.0 521.4,820.1 528.3,814.4 535.2,812.8 542.1,812.1 548.9,809.9 555.8,808.8 562.7,803.1 569.6,797.2 576.5,792.6 583.3,789.1 590.2,787.4 597.1,789.6 604.0,792.6 610.9,793.4 617.8,795.6 624.6,793.6 631.5,790.9 638.4,786.4 645.3,787.3 652.2,790.2 659.0,794.2 665.9,804.2 672.8,815.1 679.7,825.1 686.6,831.0 693.4,837.2 700.3,840.5 707.2,834.2 714.1,823.2 721.0,813.2 727.8,809.4 734.7,808.8 741.6,812.0 748.5,815.5 755.4,817.8 762.2,816.6 769.1,819.2 776.0,822.6 782.9,827.6 789.8,834.3 796.7,839.3 803.5,843.3 810.4,845.7 817.3,846.4 824.2,846.6 831.1,847.2 837.9,847.0 844.8,848.5 851.7,850.4 858.6,843.6 865.5,831.8 872.3,819.9 879.2,811.0 886.1,804.9 893.0,799.1 899.9,795.6 906.7,790.5 913.6,785.3 920.5,784.7 927.4,781.8 934.3,779.1 941.2,781.2 948.0,784.9 954.9,787.8 961.8,788.1 968.7,790.7 975.6,794.9 982.4,802.0 989.3,808.3 996.2,807.6 1003.1,802.2 1010.0,795.2 1016.8,788.4 1023.7,782.9 1030.6,781.3 1037.5,778.4 1044.4,776.8 1051.2,776.0 1058.1,776.8 1065.0,775.5 1071.9,773.3 1078.8,773.0 1085.6,773.1 1092.5,774.0 1099.4,773.1 1106.3,773.4 1113.2,773.3 1120.1,771.9 1126.9,771.0 1133.8,778.9 1140.7,786.3 1147.6,791.0 1154.5,795.7 1161.3,804.3 1168.2,810.5 1175.1,810.2 1182.0,807.4 1188.9,802.8 1195.7,797.2 1202.6,791.6 1209.5,791.7 1216.4,798.1 1223.3,805.5 1230.1,815.1 1237.0,815.7 1243.9,810.3 1250.8,803.2 1257.7,795.4 1264.5,788.3 1271.4,783.6 1278.3,780.8 1285.2,779.1 1292.1,780.2 1299.0,785.0 1305.8,794.1 1312.7,797.2 1319.6,796.1 1326.5,794.5 1333.4,790.3 1340.2,791.1 1347.1,795.8 1354.0,801.4 1360.9,811.4 1367.8,822.3 1374.6,831.6 1381.5,838.5 1388.4,844.1 1395.3,847.9 1402.2,851.1 1409.0,854.3 1415.9,854.1 1422.8,852.9 1429.7,852.2 1436.6,848.8 1443.2,840.3" fill="none" stroke="#ffff00" stroke-width="1.25" stroke-linejoin="round"/>
<polyline points="5.4,848.0 12.2,853.7 19.1,845.5 26.0,825.7 32.9,808.8 39.8,808.8 46.6,792.7 53.5,785.3 60.4,785.3 67.3,788.6 74.2,791.1 81.0,810.9 87.9,798.5 94.8,786.1 101.7,778.3 108.6,774.2 115.5,777.2 122.3,781.2 129.2,785.0 136.1,785.5 143.0,796.6 149.9,812.9 156.7,828.9 163.6,839.8 170.5,835.7 177.4,837.6 184.3,830.3 191.1,825.3 198.0,823.6 204.9,812.4 211.8,821.3 218.7,828.2 225.5,841.3 232.4,840.2 239.3,830.9 246.2,829.3 253.1,823.2 260.0,818.6 266.8,799.7 273.7,790.5 280.6,787.6 287.5,793.1 294.4,808.2 301.2,818.3 308.1,814.1 315.0,828.3 321.9,839.2 328.8,842.5 335.6,850.7 342.5,852.9 349.4,854.9 356.3,846.4 363.2,842.4 370.0,849.1 376.9,830.6 383.8,812.7 390.7,800.6 397.6,787.5 404.4,782.0 411.3,779.0 418.2,779.5 425.1,774.0 432.0,790.6 438.9,808.7 445.7,822.2 452.6,834.6 459.5,837.4 466.4,844.4 473.3,851.7 480.1,852.3 487.0,857.8 493.9,849.1 500.8,830.5 507.7,819.9 514.5,811.7 521.4,806.4 528.3,802.8 535.2,809.8 542.1,810.5 548.9,805.6 555.8,806.8 562.7,791.6 569.6,785.6 576.5,783.4 583.3,782.1 590.2,783.9 597.1,794.1 604.0,798.7 610.9,795.0 617.8,799.8 624.6,789.6 631.5,785.5 638.4,777.4 645.3,789.1 652.2,795.9 659.0,802.1 665.9,824.4 672.8,836.9 679.7,845.1 686.6,842.7 693.4,849.7 700.3,847.1 707.2,821.4 714.1,801.4 721.0,793.3 727.8,801.6 734.7,807.6 741.6,818.5 748.5,822.4 755.4,822.4 762.2,814.1 769.1,824.4 776.0,829.3 782.9,837.8 789.8,847.6 796.7,849.3 803.5,851.5 810.4,850.4 817.3,847.9 824.2,847.0 831.1,848.5 837.9,846.7 844.8,851.5 851.7,854.0 858.6,830.1 865.5,808.2 872.3,796.0 879.2,793.2 886.1,792.7 893.0,787.5 899.9,788.6 906.7,780.3 913.6,775.0 920.5,783.5 927.4,776.1 934.3,773.7 941.2,785.3 948.0,792.2 954.9,793.8 961.8,788.5 968.7,796.1 975.6,803.1 982.4,816.4 989.3,820.8 996.2,806.3 1003.1,791.3 1010.0,781.3 1016.8,774.7 1023.7,772.0 1030.6,778.2 1037.5,772.5 1044.4,773.6 1051.2,774.4 1058.1,778.5 1065.0,772.7 1071.9,768.9 1078.8,772.4 1085.6,773.3 1092.5,775.8 1099.4,771.3 1106.3,774.0 1113.2,773.1 1120.1,769.1 1126.9,769.1 1133.8,794.6 1140.7,801.2 1147.6,800.4 1154.5,805.0 1161.3,821.5 1168.2,823.0 1175.1,809.5 1182.0,801.8 1188.9,793.6 1195.7,786.0 1202.6,780.5 1209.5,791.9 1216.4,810.8 1223.3,820.4 1230.1,834.3 1237.0,816.9 1243.9,799.4 1250.8,789.2 1257.7,779.9 1264.5,774.1 1271.4,774.1 1278.3,775.2 1285.2,775.7 1292.1,782.3 1299.0,794.6 1305.8,812.3 1312.7,803.3 1319.6,794.0 1326.5,791.4 1333.4,781.9 1340.2,792.7 1347.1,805.1 1354.0,812.7 1360.9,831.4 1367.8,844.0 1374.6,850.2 1381.5,852.3 1388.4,855.2 1395.3,855.6 1402.2,857.6 1409.0,860.7 1415.9,853.6 1422.8,850.7 1429.7,850.7 1436.6,842.2 1443.2,823.2" fill="none" stroke="#ffffff" stroke-width="1.25" stroke-linejoin="round"/>
</g>
<g stroke="#b40000" stroke-width="1.4" fill="none">
<path d="M1435.3 16.2 L1443.6 24.3 L1435.3 32.4 L1427 24.3 Z"/>
<rect x="1449.7" y="16.7" width="14.5" height="15.5"/><path d="M1459.6 16.7 L1459.6 32.2"/>
</g>
<rect x="1434" y="37" width="5" height="3" fill="#ff00ff"/><rect x="1440.3" y="37" width="5" height="3" fill="#ff00ff"/>
<path d="M197.3 14 L199.7 14 L206.0 20.8 L206.0 22.6 L201.7 22.6 L201.7 30.9 L195.3 30.9 L195.3 22.6 L191.0 22.6 L191.0 20.8 Z" fill="#ff0000"/>
<g fill="#b00000" shape-rendering="crispEdges">
<rect x="1467" y="10" width="2" height="703"/>
<rect x="1467" y="713" width="3" height="173"/>
<rect x="2" y="536.7" width="1494" height="1.4" fill="#c40000" shape-rendering="auto"/>
<rect x="2" y="712" width="1465" height="2" fill="#900000"/>
<rect x="1467" y="712" width="29" height="3"/>
<rect x="1469" y="33.9" width="8" height="1.8" shape-rendering="auto"/>
<rect x="1469" y="61.5" width="4" height="1.8" shape-rendering="auto"/>
<rect x="1469" y="89.2" width="8" height="1.8" shape-rendering="auto"/>
<rect x="1469" y="116.8" width="4" height="1.8" shape-rendering="auto"/>
<rect x="1469" y="144.5" width="8" height="1.8" shape-rendering="auto"/>
<rect x="1469" y="172.2" width="4" height="1.8" shape-rendering="auto"/>
<rect x="1469" y="199.8" width="8" height="1.8" shape-rendering="auto"/>
<rect x="1469" y="227.4" width="4" height="1.8" shape-rendering="auto"/>
<rect x="1469" y="255.1" width="8" height="1.8" shape-rendering="auto"/>
<rect x="1469" y="282.8" width="4" height="1.8" shape-rendering="auto"/>
<rect x="1469" y="310.4" width="8" height="1.8" shape-rendering="auto"/>
<rect x="1469" y="338.1" width="4" height="1.8" shape-rendering="auto"/>
<rect x="1469" y="365.7" width="8" height="1.8" shape-rendering="auto"/>
<rect x="1469" y="393.4" width="4" height="1.8" shape-rendering="auto"/>
<rect x="1469" y="421.0" width="8" height="1.8" shape-rendering="auto"/>
<rect x="1469" y="448.7" width="4" height="1.8" shape-rendering="auto"/>
<rect x="1469" y="476.3" width="8" height="1.8" shape-rendering="auto"/>
<rect x="1469" y="562.1" width="8" height="1.8" shape-rendering="auto"/>
<rect x="1469" y="587.1" width="4" height="1.8" shape-rendering="auto"/>
<rect x="1469" y="611.1" width="8" height="1.8" shape-rendering="auto"/>
<rect x="1469" y="637.1" width="4" height="1.8" shape-rendering="auto"/>
<rect x="1469" y="661.1" width="8" height="1.8" shape-rendering="auto"/>
<rect x="1469" y="690" width="27" height="2"/>
</g>
<defs><linearGradient id="tb" x1="0" y1="0" x2="0" y2="1"><stop offset="0" stop-color="#d6d6d6"/><stop offset="0.7" stop-color="#d2d2d2"/><stop offset="0.85" stop-color="#9a9a9a"/><stop offset="1" stop-color="#202020"/></linearGradient></defs>
<rect x="0" y="0" width="1496" height="10" fill="url(#tb)"/><rect x="2" y="0" width="25" height="1" fill="#ffffff"/>
<rect x="0" y="0" width="2" height="886" fill="#ececec"/>
<text x="210.54" y="29.8" font-family="'Liberation Sans',sans-serif" font-size="17.8" fill="#ffffff">MA5: 2924.18</text>
<text x="328.94" y="29.7" font-family="'Liberation Sans',sans-serif" font-size="17.8" fill="#ffff00">MA10: 2927.68</text>
<text x="457.53" y="29.7" font-family="'Liberation Sans',sans-serif" font-size="17.9" fill="#ff00ff">MA20: 3060.13</text>
<text x="586.93" y="29.7" font-family="'Liberation Sans',sans-serif" font-size="17.9" fill="#00e600">MA250: 2819.50</text>
<text x="2.92" y="556.3" font-family="'Liberation Sans',sans-serif" font-size="17.9" fill="#e0e0e0">VOLUME: 248385696.00</text>
<text x="211.91" y="556.3" font-family="'Liberation Sans',sans-serif" font-size="18.2" fill="#ffffff">MA5: 236317488.00</text>
<text x="382.71" y="556.3" font-family="'Liberation Sans',sans-serif" font-size="18.1" fill="#ffff00">MA10: 241571568.00</text>
<text x="1.51" y="731.8" font-family="'Liberation Sans',sans-serif" font-size="18.1" fill="#c8c8c8">KDJ(9,3,3)</text>
<text x="95.3" y="731.7" font-family="'Liberation Sans',sans-serif" font-size="18.3" fill="#ffffff">K: 42.92</text>
<text x="171.06" y="731.7" font-family="'Liberation Sans',sans-serif" font-size="17.6" fill="#ffff00">D: 26.81</text>
<text x="247.72" y="731.7" font-family="'Liberation Sans',sans-serif" font-size="18.2" fill="#ff00ff">J: 75.12</text>
<text x="1488.59" y="569.6" font-family="'Liberation Sans',sans-serif" font-size="18" fill="#e02828">60000</text>
<text x="1489.09" y="618.9" font-family="'Liberation Sans',sans-serif" font-size="18" fill="#e02828">40000</text>
<text x="1488.59" y="668.6" font-family="'Liberation Sans',sans-serif" font-size="18" fill="#e02828">20000</text>
<text x="1470.37" y="708.3" font-family="'Liberation Sans',sans-serif" font-size="19" fill="#e02828">X17</text>
<text x="1482.93" y="767.8" font-family="'Liberation Sans',sans-serif" font-size="18" fill="#e02828">100</text>
<text x="2.4 21.15 39.2 57 75 79.6 98.25 116.3 121.5 139.85 158 178" y="31" font-family="'Liberation Sans','Noto Sans CJK SC',sans-serif" font-size="19.3" fill="#d0d0d0">上证指数(日线,前复权)</text>
</svg>
<!--TEXT-->
</body></html>
